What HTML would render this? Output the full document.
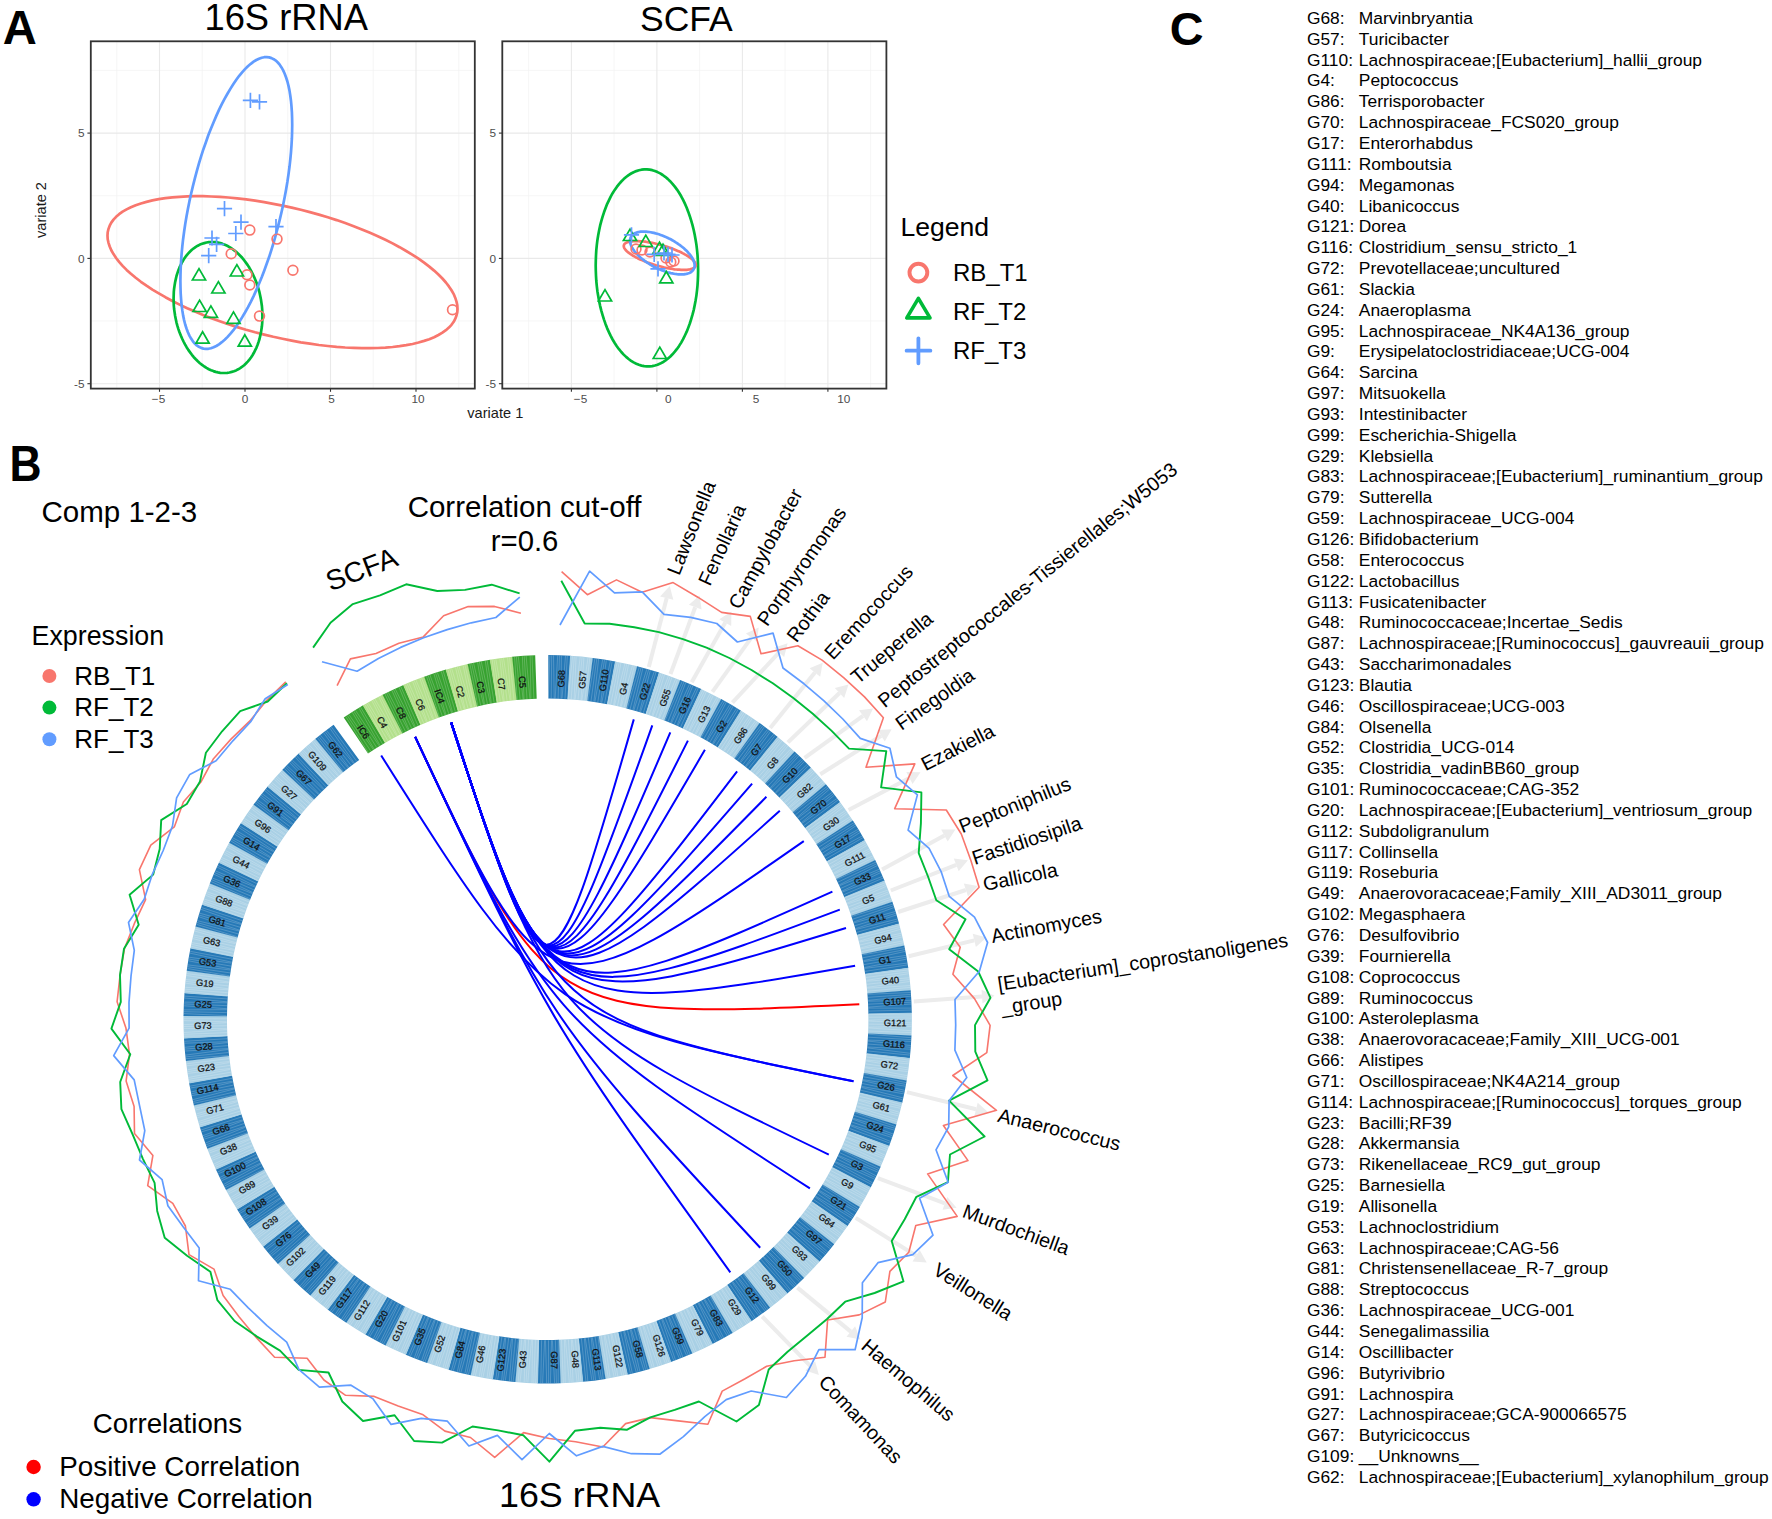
<!DOCTYPE html>
<html><head><meta charset="utf-8"><title>Figure</title>
<style>html,body{margin:0;padding:0;background:#fff}svg{display:block}text{font-family:"Liberation Sans", Arial, Helvetica, sans-serif}</style>
</head><body>
<svg width="1772" height="1519" viewBox="0 0 1772 1519">
<rect width="1772" height="1519" fill="#fff"/>
<g id="panelA">
<rect x="90.8" y="41.3" width="384.0" height="347.3" fill="#fff"/>
<line x1="116.8" y1="41.3" x2="116.8" y2="388.6" stroke="#f2f2f2" stroke-width="0.7"/>
<line x1="202.2" y1="41.3" x2="202.2" y2="388.6" stroke="#f2f2f2" stroke-width="0.7"/>
<line x1="287.8" y1="41.3" x2="287.8" y2="388.6" stroke="#f2f2f2" stroke-width="0.7"/>
<line x1="373.2" y1="41.3" x2="373.2" y2="388.6" stroke="#f2f2f2" stroke-width="0.7"/>
<line x1="458.8" y1="41.3" x2="458.8" y2="388.6" stroke="#f2f2f2" stroke-width="0.7"/>
<line x1="90.8" y1="321.0" x2="474.8" y2="321.0" stroke="#f2f2f2" stroke-width="0.7"/>
<line x1="90.8" y1="195.7" x2="474.8" y2="195.7" stroke="#f2f2f2" stroke-width="0.7"/>
<line x1="90.8" y1="70.4" x2="474.8" y2="70.4" stroke="#f2f2f2" stroke-width="0.7"/>
<line x1="159.5" y1="41.3" x2="159.5" y2="388.6" stroke="#e9e9e9" stroke-width="1.1"/>
<line x1="159.5" y1="388.6" x2="159.5" y2="391.8" stroke="#333" stroke-width="1.1"/>
<text x="158.5" y="402.8" font-size="11.8" fill="#4d4d4d" text-anchor="middle">−5</text>
<line x1="245.0" y1="41.3" x2="245.0" y2="388.6" stroke="#e9e9e9" stroke-width="1.1"/>
<line x1="245.0" y1="388.6" x2="245.0" y2="391.8" stroke="#333" stroke-width="1.1"/>
<text x="245.0" y="402.8" font-size="11.8" fill="#4d4d4d" text-anchor="middle">0</text>
<line x1="330.5" y1="41.3" x2="330.5" y2="388.6" stroke="#e9e9e9" stroke-width="1.1"/>
<line x1="330.5" y1="388.6" x2="330.5" y2="391.8" stroke="#333" stroke-width="1.1"/>
<text x="331.5" y="402.8" font-size="11.8" fill="#4d4d4d" text-anchor="middle">5</text>
<line x1="416.0" y1="41.3" x2="416.0" y2="388.6" stroke="#e9e9e9" stroke-width="1.1"/>
<line x1="416.0" y1="388.6" x2="416.0" y2="391.8" stroke="#333" stroke-width="1.1"/>
<text x="418.0" y="402.8" font-size="11.8" fill="#4d4d4d" text-anchor="middle">10</text>
<line x1="90.8" y1="383.7" x2="474.8" y2="383.7" stroke="#e9e9e9" stroke-width="1.1"/>
<line x1="87.4" y1="383.7" x2="90.8" y2="383.7" stroke="#333" stroke-width="1.1"/>
<text x="84.5" y="387.9" font-size="11.8" fill="#4d4d4d" text-anchor="end">-5</text>
<line x1="90.8" y1="258.4" x2="474.8" y2="258.4" stroke="#e9e9e9" stroke-width="1.1"/>
<line x1="87.4" y1="258.4" x2="90.8" y2="258.4" stroke="#333" stroke-width="1.1"/>
<text x="84.5" y="262.6" font-size="11.8" fill="#4d4d4d" text-anchor="end">0</text>
<line x1="90.8" y1="133.1" x2="474.8" y2="133.1" stroke="#e9e9e9" stroke-width="1.1"/>
<line x1="87.4" y1="133.1" x2="90.8" y2="133.1" stroke="#333" stroke-width="1.1"/>
<text x="84.5" y="137.3" font-size="11.8" fill="#4d4d4d" text-anchor="end">5</text>
<rect x="502.3" y="41.3" width="384.1" height="347.3" fill="#fff"/>
<line x1="528.6" y1="41.3" x2="528.6" y2="388.6" stroke="#f2f2f2" stroke-width="0.7"/>
<line x1="614.1" y1="41.3" x2="614.1" y2="388.6" stroke="#f2f2f2" stroke-width="0.7"/>
<line x1="699.6" y1="41.3" x2="699.6" y2="388.6" stroke="#f2f2f2" stroke-width="0.7"/>
<line x1="785.1" y1="41.3" x2="785.1" y2="388.6" stroke="#f2f2f2" stroke-width="0.7"/>
<line x1="870.6" y1="41.3" x2="870.6" y2="388.6" stroke="#f2f2f2" stroke-width="0.7"/>
<line x1="502.3" y1="321.0" x2="886.4" y2="321.0" stroke="#f2f2f2" stroke-width="0.7"/>
<line x1="502.3" y1="195.7" x2="886.4" y2="195.7" stroke="#f2f2f2" stroke-width="0.7"/>
<line x1="502.3" y1="70.4" x2="886.4" y2="70.4" stroke="#f2f2f2" stroke-width="0.7"/>
<line x1="571.4" y1="41.3" x2="571.4" y2="388.6" stroke="#e9e9e9" stroke-width="1.1"/>
<line x1="571.4" y1="388.6" x2="571.4" y2="391.8" stroke="#333" stroke-width="1.1"/>
<text x="580.5" y="402.8" font-size="11.8" fill="#4d4d4d" text-anchor="middle">−5</text>
<line x1="656.9" y1="41.3" x2="656.9" y2="388.6" stroke="#e9e9e9" stroke-width="1.1"/>
<line x1="656.9" y1="388.6" x2="656.9" y2="391.8" stroke="#333" stroke-width="1.1"/>
<text x="668.2" y="402.8" font-size="11.8" fill="#4d4d4d" text-anchor="middle">0</text>
<line x1="742.4" y1="41.3" x2="742.4" y2="388.6" stroke="#e9e9e9" stroke-width="1.1"/>
<line x1="742.4" y1="388.6" x2="742.4" y2="391.8" stroke="#333" stroke-width="1.1"/>
<text x="756.0" y="402.8" font-size="11.8" fill="#4d4d4d" text-anchor="middle">5</text>
<line x1="827.9" y1="41.3" x2="827.9" y2="388.6" stroke="#e9e9e9" stroke-width="1.1"/>
<line x1="827.9" y1="388.6" x2="827.9" y2="391.8" stroke="#333" stroke-width="1.1"/>
<text x="843.7" y="402.8" font-size="11.8" fill="#4d4d4d" text-anchor="middle">10</text>
<line x1="502.3" y1="383.7" x2="886.4" y2="383.7" stroke="#e9e9e9" stroke-width="1.1"/>
<line x1="498.9" y1="383.7" x2="502.3" y2="383.7" stroke="#333" stroke-width="1.1"/>
<text x="496.0" y="387.9" font-size="11.8" fill="#4d4d4d" text-anchor="end">-5</text>
<line x1="502.3" y1="258.4" x2="886.4" y2="258.4" stroke="#e9e9e9" stroke-width="1.1"/>
<line x1="498.9" y1="258.4" x2="502.3" y2="258.4" stroke="#333" stroke-width="1.1"/>
<text x="496.0" y="262.6" font-size="11.8" fill="#4d4d4d" text-anchor="end">0</text>
<line x1="502.3" y1="133.1" x2="886.4" y2="133.1" stroke="#e9e9e9" stroke-width="1.1"/>
<line x1="498.9" y1="133.1" x2="502.3" y2="133.1" stroke="#333" stroke-width="1.1"/>
<text x="496.0" y="137.3" font-size="11.8" fill="#4d4d4d" text-anchor="end">5</text>
<polygon points="457.5,308.8 457.3,312.2 456.5,315.5 455.3,318.7 453.7,321.8 451.5,324.8 448.9,327.6 445.9,330.2 442.4,332.7 438.4,335.0 434.1,337.2 429.3,339.2 424.1,340.9 418.5,342.5 412.6,344.0 406.2,345.2 399.6,346.2 392.6,347.0 385.4,347.6 377.8,348.0 370.0,348.2 361.9,348.2 353.7,347.9 345.2,347.5 336.6,346.9 327.8,346.0 318.9,345.0 309.9,343.7 300.8,342.3 291.7,340.6 282.5,338.8 273.3,336.8 264.2,334.6 255.1,332.3 246.1,329.8 237.2,327.1 228.4,324.3 219.8,321.3 211.3,318.2 203.1,315.0 195.0,311.6 187.2,308.2 179.6,304.6 172.4,301.0 165.4,297.2 158.8,293.4 152.4,289.6 146.5,285.7 140.9,281.8 135.7,277.8 130.9,273.8 126.6,269.9 122.6,265.9 119.1,261.9 116.1,258.0 113.5,254.1 111.3,250.3 109.7,246.5 108.5,242.8 107.7,239.2 107.5,235.6 107.7,232.2 108.5,228.9 109.7,225.7 111.3,222.6 113.5,219.6 116.1,216.8 119.1,214.2 122.6,211.7 126.6,209.4 130.9,207.2 135.7,205.2 140.9,203.5 146.5,201.9 152.4,200.4 158.8,199.2 165.4,198.2 172.4,197.4 179.6,196.8 187.2,196.4 195.0,196.2 203.1,196.2 211.3,196.5 219.8,196.9 228.4,197.5 237.2,198.4 246.1,199.4 255.1,200.7 264.2,202.1 273.3,203.8 282.5,205.6 291.7,207.6 300.8,209.8 309.9,212.1 318.9,214.6 327.8,217.3 336.6,220.1 345.2,223.1 353.7,226.2 361.9,229.4 370.0,232.8 377.8,236.2 385.4,239.8 392.6,243.4 399.6,247.2 406.2,251.0 412.6,254.8 418.5,258.7 424.1,262.6 429.3,266.6 434.1,270.6 438.4,274.5 442.4,278.5 445.9,282.5 448.9,286.4 451.5,290.3 453.7,294.1 455.3,297.9 456.5,301.6 457.3,305.2" fill="none" stroke="#F8766D" stroke-width="2.7" stroke-linejoin="round"/>
<polygon points="262.4,316.3 262.3,319.7 262.2,323.0 261.9,326.3 261.4,329.6 260.9,332.8 260.2,335.9 259.5,339.0 258.6,341.9 257.6,344.8 256.5,347.6 255.2,350.2 253.9,352.8 252.5,355.2 251.0,357.5 249.4,359.6 247.7,361.6 245.9,363.5 244.1,365.2 242.2,366.7 240.2,368.1 238.2,369.3 236.1,370.4 233.9,371.2 231.7,371.9 229.5,372.5 227.2,372.8 224.9,373.0 222.6,373.0 220.3,372.8 218.0,372.4 215.7,371.9 213.4,371.1 211.1,370.2 208.8,369.2 206.5,367.9 204.3,366.5 202.1,364.9 199.9,363.2 197.8,361.3 195.8,359.3 193.8,357.2 191.9,354.8 190.1,352.4 188.3,349.9 186.6,347.2 185.0,344.4 183.5,341.5 182.1,338.5 180.8,335.5 179.5,332.3 178.4,329.1 177.4,325.9 176.5,322.6 175.8,319.2 175.1,315.8 174.6,312.4 174.1,309.0 173.8,305.5 173.7,302.1 173.6,298.7 173.7,295.3 173.8,292.0 174.1,288.7 174.6,285.4 175.1,282.2 175.8,279.1 176.5,276.0 177.4,273.1 178.4,270.2 179.5,267.4 180.8,264.8 182.1,262.2 183.5,259.8 185.0,257.5 186.6,255.4 188.3,253.4 190.1,251.5 191.9,249.8 193.8,248.3 195.8,246.9 197.8,245.7 199.9,244.6 202.1,243.8 204.3,243.1 206.5,242.5 208.8,242.2 211.1,242.0 213.4,242.0 215.7,242.2 218.0,242.6 220.3,243.1 222.6,243.9 224.9,244.8 227.2,245.8 229.5,247.1 231.7,248.5 233.9,250.1 236.1,251.8 238.2,253.7 240.2,255.7 242.2,257.8 244.1,260.2 245.9,262.6 247.7,265.1 249.4,267.8 251.0,270.6 252.5,273.5 253.9,276.5 255.2,279.5 256.5,282.7 257.6,285.9 258.6,289.1 259.5,292.4 260.2,295.8 260.9,299.2 261.4,302.6 261.9,306.0 262.2,309.5 262.3,312.9" fill="none" stroke="#00BA38" stroke-width="2.7" stroke-linejoin="round"/>
<polygon points="292.2,124.9 292.1,131.5 291.9,138.2 291.5,145.1 291.0,152.2 290.3,159.5 289.5,166.8 288.5,174.2 287.4,181.8 286.1,189.4 284.7,197.0 283.2,204.6 281.5,212.2 279.7,219.9 277.8,227.4 275.8,234.9 273.7,242.3 271.5,249.6 269.2,256.8 266.7,263.8 264.2,270.7 261.7,277.3 259.0,283.8 256.3,290.1 253.6,296.1 250.8,301.8 247.9,307.3 245.0,312.5 242.1,317.4 239.2,322.0 236.3,326.2 233.4,330.2 230.5,333.7 227.6,336.9 224.7,339.8 221.8,342.2 219.0,344.3 216.3,346.0 213.6,347.3 210.9,348.3 208.4,348.8 205.9,348.9 203.4,348.6 201.1,347.9 198.9,346.8 196.8,345.4 194.8,343.5 192.9,341.3 191.1,338.6 189.4,335.6 187.9,332.3 186.5,328.5 185.2,324.5 184.1,320.1 183.1,315.4 182.3,310.3 181.6,305.0 181.1,299.4 180.7,293.6 180.5,287.4 180.4,281.1 180.5,274.5 180.7,267.8 181.1,260.9 181.6,253.8 182.3,246.5 183.1,239.2 184.1,231.8 185.2,224.2 186.5,216.6 187.9,209.0 189.4,201.4 191.1,193.8 192.9,186.1 194.8,178.6 196.8,171.1 198.9,163.7 201.1,156.4 203.4,149.2 205.9,142.2 208.3,135.3 210.9,128.7 213.6,122.2 216.3,115.9 219.0,109.9 221.8,104.2 224.7,98.7 227.6,93.5 230.5,88.6 233.4,84.0 236.3,79.8 239.2,75.8 242.1,72.3 245.0,69.1 247.9,66.2 250.8,63.8 253.6,61.7 256.3,60.0 259.0,58.7 261.7,57.7 264.2,57.2 266.7,57.1 269.2,57.4 271.5,58.1 273.7,59.2 275.8,60.6 277.8,62.5 279.7,64.7 281.5,67.4 283.2,70.4 284.7,73.7 286.1,77.5 287.4,81.5 288.5,85.9 289.5,90.6 290.3,95.7 291.0,101.0 291.5,106.6 291.9,112.4 292.1,118.6" fill="none" stroke="#619CFF" stroke-width="2.7" stroke-linejoin="round"/>
<circle cx="249.8" cy="230.1" r="4.9" fill="none" stroke="#F8766D" stroke-width="1.7"/>
<circle cx="277" cy="239.1" r="4.9" fill="none" stroke="#F8766D" stroke-width="1.7"/>
<circle cx="231.2" cy="253.8" r="4.9" fill="none" stroke="#F8766D" stroke-width="1.7"/>
<circle cx="292.9" cy="270.3" r="4.9" fill="none" stroke="#F8766D" stroke-width="1.7"/>
<circle cx="247" cy="274.8" r="4.9" fill="none" stroke="#F8766D" stroke-width="1.7"/>
<circle cx="249.8" cy="285" r="4.9" fill="none" stroke="#F8766D" stroke-width="1.7"/>
<circle cx="259.5" cy="316.1" r="4.9" fill="none" stroke="#F8766D" stroke-width="1.7"/>
<circle cx="452.5" cy="309.8" r="4.9" fill="none" stroke="#F8766D" stroke-width="1.7"/>
<polygon points="199.0,268.6 192.4,280.0 205.6,280.0" fill="none" stroke="#00BA38" stroke-width="1.7"/>
<polygon points="236.9,264.6 230.3,276.0 243.5,276.0" fill="none" stroke="#00BA38" stroke-width="1.7"/>
<polygon points="218.4,281.6 211.8,293.0 225.0,293.0" fill="none" stroke="#00BA38" stroke-width="1.7"/>
<polygon points="199.6,300.1 193.0,311.5 206.2,311.5" fill="none" stroke="#00BA38" stroke-width="1.7"/>
<polygon points="210.9,305.9 204.3,317.3 217.5,317.3" fill="none" stroke="#00BA38" stroke-width="1.7"/>
<polygon points="233.5,311.9 226.9,323.3 240.1,323.3" fill="none" stroke="#00BA38" stroke-width="1.7"/>
<polygon points="202.6,331.8 196.0,343.2 209.2,343.2" fill="none" stroke="#00BA38" stroke-width="1.7"/>
<polygon points="244.8,334.8 238.2,346.2 251.4,346.2" fill="none" stroke="#00BA38" stroke-width="1.7"/>
<path d="M242.8 100.4H258.0M250.4 92.8V108.0" stroke="#619CFF" stroke-width="1.7" fill="none"/>
<path d="M251.9 101.8H267.1M259.5 94.2V109.4" stroke="#619CFF" stroke-width="1.7" fill="none"/>
<path d="M216.9 208.7H232.1M224.5 201.1V216.3" stroke="#619CFF" stroke-width="1.7" fill="none"/>
<path d="M233.4 222.2H248.6M241 214.6V229.8" stroke="#619CFF" stroke-width="1.7" fill="none"/>
<path d="M268.4 226.7H283.6M276 219.1V234.3" stroke="#619CFF" stroke-width="1.7" fill="none"/>
<path d="M228.2 233.5H243.4M235.8 225.9V241.1" stroke="#619CFF" stroke-width="1.7" fill="none"/>
<path d="M204.4 238H219.6M212 230.4V245.6" stroke="#619CFF" stroke-width="1.7" fill="none"/>
<path d="M209.0 244.3H224.2M216.6 236.7V251.9" stroke="#619CFF" stroke-width="1.7" fill="none"/>
<path d="M201.1 255.6H216.3M208.7 248.0V263.2" stroke="#619CFF" stroke-width="1.7" fill="none"/>
<polygon points="698.1,270.2 698.0,275.4 697.8,280.5 697.5,285.6 697.0,290.6 696.4,295.6 695.6,300.5 694.7,305.3 693.7,310.1 692.5,314.7 691.2,319.1 689.8,323.5 688.3,327.6 686.7,331.7 684.9,335.5 683.1,339.2 681.2,342.6 679.1,345.9 677.0,348.9 674.8,351.7 672.5,354.3 670.1,356.7 667.7,358.8 665.2,360.7 662.7,362.3 660.2,363.6 657.5,364.7 654.9,365.5 652.3,366.1 649.6,366.4 646.9,366.4 644.2,366.1 641.5,365.6 638.9,364.8 636.3,363.7 633.6,362.4 631.1,360.8 628.6,359.0 626.1,356.9 623.7,354.6 621.3,352.0 619.0,349.2 616.8,346.2 614.7,343.0 612.6,339.5 610.7,335.9 608.9,332.1 607.1,328.1 605.5,323.9 604.0,319.6 602.6,315.1 601.3,310.6 600.1,305.8 599.1,301.0 598.2,296.1 597.4,291.2 596.8,286.1 596.3,281.0 596.0,275.9 595.8,270.8 595.7,265.6 595.8,260.4 596.0,255.3 596.3,250.2 596.8,245.2 597.4,240.2 598.2,235.3 599.1,230.5 600.1,225.7 601.3,221.1 602.6,216.7 604.0,212.3 605.5,208.2 607.1,204.1 608.9,200.3 610.7,196.6 612.6,193.2 614.7,189.9 616.8,186.9 619.0,184.1 621.3,181.5 623.7,179.1 626.1,177.0 628.6,175.1 631.1,173.5 633.6,172.2 636.3,171.1 638.9,170.3 641.5,169.7 644.2,169.4 646.9,169.4 649.6,169.7 652.3,170.2 654.9,171.0 657.5,172.1 660.2,173.4 662.7,175.0 665.2,176.8 667.7,178.9 670.1,181.2 672.5,183.8 674.8,186.6 677.0,189.6 679.1,192.8 681.2,196.3 683.1,199.9 684.9,203.7 686.7,207.7 688.3,211.9 689.8,216.2 691.2,220.7 692.5,225.2 693.7,230.0 694.7,234.8 695.6,239.7 696.4,244.6 697.0,249.7 697.5,254.8 697.8,259.9 698.0,265.0" fill="none" stroke="#00BA38" stroke-width="2.7" stroke-linejoin="round"/>
<polygon points="695.8,265.0 695.8,265.6 695.6,266.1 695.4,266.6 695.0,267.0 694.6,267.5 694.0,267.9 693.4,268.2 692.7,268.6 691.9,268.9 691.0,269.1 690.0,269.4 688.9,269.5 687.8,269.7 686.6,269.8 685.3,269.9 683.9,269.9 682.5,269.9 681.0,269.8 679.4,269.7 677.8,269.6 676.1,269.5 674.4,269.3 672.7,269.0 670.9,268.7 669.1,268.4 667.3,268.1 665.4,267.7 663.6,267.3 661.7,266.8 659.8,266.3 657.9,265.8 656.0,265.3 654.2,264.7 652.3,264.1 650.5,263.5 648.7,262.9 646.9,262.2 645.2,261.5 643.5,260.8 641.8,260.1 640.2,259.4 638.6,258.7 637.1,257.9 635.7,257.2 634.3,256.4 633.0,255.7 631.8,254.9 630.7,254.2 629.6,253.4 628.6,252.7 627.7,251.9 626.9,251.2 626.2,250.5 625.6,249.8 625.0,249.1 624.6,248.5 624.2,247.8 624.0,247.2 623.8,246.6 623.8,246.0 623.8,245.4 624.0,244.9 624.2,244.4 624.6,244.0 625.0,243.5 625.6,243.1 626.2,242.8 626.9,242.4 627.7,242.1 628.6,241.9 629.6,241.6 630.7,241.5 631.8,241.3 633.0,241.2 634.3,241.1 635.7,241.1 637.1,241.1 638.6,241.2 640.2,241.3 641.8,241.4 643.5,241.5 645.2,241.7 646.9,242.0 648.7,242.3 650.5,242.6 652.3,242.9 654.2,243.3 656.0,243.7 657.9,244.2 659.8,244.7 661.7,245.2 663.6,245.7 665.4,246.3 667.3,246.9 669.1,247.5 670.9,248.1 672.7,248.8 674.4,249.5 676.1,250.2 677.8,250.9 679.4,251.6 681.0,252.3 682.5,253.1 683.9,253.8 685.3,254.6 686.6,255.3 687.8,256.1 688.9,256.8 690.0,257.6 691.0,258.3 691.9,259.1 692.7,259.8 693.4,260.5 694.0,261.2 694.6,261.9 695.0,262.5 695.4,263.2 695.6,263.8 695.8,264.4" fill="none" stroke="#F8766D" stroke-width="2.7" stroke-linejoin="round"/>
<polygon points="694.6,265.4 694.6,266.3 694.4,267.1 694.2,268.0 693.9,268.7 693.5,269.5 693.0,270.2 692.5,270.8 691.8,271.4 691.1,272.0 690.3,272.5 689.4,272.9 688.4,273.3 687.4,273.6 686.3,273.9 685.1,274.1 683.9,274.3 682.6,274.4 681.3,274.4 679.9,274.4 678.4,274.3 677.0,274.2 675.4,274.0 673.9,273.7 672.3,273.4 670.7,273.1 669.0,272.6 667.4,272.2 665.7,271.7 664.0,271.1 662.3,270.5 660.6,269.8 658.9,269.1 657.2,268.3 655.6,267.5 653.9,266.7 652.3,265.8 650.7,264.9 649.2,263.9 647.6,262.9 646.1,261.9 644.7,260.9 643.3,259.8 642.0,258.8 640.7,257.7 639.5,256.6 638.3,255.5 637.2,254.4 636.2,253.2 635.2,252.1 634.3,251.0 633.5,249.9 632.8,248.8 632.1,247.7 631.6,246.6 631.1,245.6 630.7,244.5 630.4,243.5 630.2,242.5 630.0,241.5 630.0,240.6 630.0,239.7 630.2,238.9 630.4,238.0 630.7,237.3 631.1,236.5 631.6,235.8 632.1,235.2 632.8,234.6 633.5,234.0 634.3,233.5 635.2,233.1 636.2,232.7 637.2,232.4 638.3,232.1 639.5,231.9 640.7,231.7 642.0,231.6 643.3,231.6 644.7,231.6 646.1,231.7 647.6,231.8 649.2,232.0 650.7,232.3 652.3,232.6 653.9,232.9 655.6,233.4 657.2,233.8 658.9,234.3 660.6,234.9 662.3,235.5 664.0,236.2 665.7,236.9 667.4,237.7 669.0,238.5 670.7,239.3 672.3,240.2 673.9,241.1 675.4,242.1 677.0,243.1 678.4,244.1 679.9,245.1 681.3,246.2 682.6,247.2 683.9,248.3 685.1,249.4 686.3,250.5 687.4,251.6 688.4,252.8 689.4,253.9 690.3,255.0 691.1,256.1 691.8,257.2 692.5,258.3 693.0,259.4 693.5,260.4 693.9,261.5 694.2,262.5 694.4,263.5 694.6,264.5" fill="none" stroke="#619CFF" stroke-width="2.7" stroke-linejoin="round"/>
<circle cx="642" cy="250" r="4.9" fill="none" stroke="#F8766D" stroke-width="1.7"/>
<circle cx="636" cy="249" r="4.9" fill="none" stroke="#F8766D" stroke-width="1.7"/>
<circle cx="650" cy="252" r="4.9" fill="none" stroke="#F8766D" stroke-width="1.7"/>
<circle cx="670.8" cy="262" r="4.9" fill="none" stroke="#F8766D" stroke-width="1.7"/>
<circle cx="674" cy="261" r="4.9" fill="none" stroke="#F8766D" stroke-width="1.7"/>
<circle cx="666" cy="258" r="4.9" fill="none" stroke="#F8766D" stroke-width="1.7"/>
<polygon points="630.0,229.1 623.4,240.5 636.6,240.5" fill="none" stroke="#00BA38" stroke-width="1.7"/>
<polygon points="645.8,235.1 639.2,246.5 652.4,246.5" fill="none" stroke="#00BA38" stroke-width="1.7"/>
<polygon points="605.0,289.6 598.4,301.0 611.6,301.0" fill="none" stroke="#00BA38" stroke-width="1.7"/>
<polygon points="666.3,271.5 659.7,282.9 672.9,282.9" fill="none" stroke="#00BA38" stroke-width="1.7"/>
<polygon points="659.8,347.1 653.2,358.5 666.4,358.5" fill="none" stroke="#00BA38" stroke-width="1.7"/>
<polygon points="659.5,242.1 652.9,253.5 666.1,253.5" fill="none" stroke="#00BA38" stroke-width="1.7"/>
<polygon points="663.0,244.1 656.4,255.5 669.6,255.5" fill="none" stroke="#00BA38" stroke-width="1.7"/>
<path d="M623.9 234.8H639.1M631.5 227.2V242.4" stroke="#619CFF" stroke-width="1.7" fill="none"/>
<path d="M646.6 254.4H661.8M654.2 246.8V262.0" stroke="#619CFF" stroke-width="1.7" fill="none"/>
<path d="M650.4 268.8H665.6M658 261.2V276.4" stroke="#619CFF" stroke-width="1.7" fill="none"/>
<path d="M660.4 254.4H675.6M668 246.8V262.0" stroke="#619CFF" stroke-width="1.7" fill="none"/>
<path d="M664.4 255H679.6M672 247.4V262.6" stroke="#619CFF" stroke-width="1.7" fill="none"/>
<path d="M656.4 253H671.6M664 245.4V260.6" stroke="#619CFF" stroke-width="1.7" fill="none"/>
<rect x="90.8" y="41.3" width="384.0" height="347.3" fill="none" stroke="#333" stroke-width="1.8"/>
<rect x="502.3" y="41.3" width="384.1" height="347.3" fill="none" stroke="#333" stroke-width="1.8"/>
<text x="204.5" y="30" font-size="36.3">16S rRNA</text>
<text x="640" y="30.5" font-size="35.5">SCFA</text>
<text x="495.3" y="418.2" font-size="14.6" fill="#1a1a1a" text-anchor="middle">variate 1</text>
<text transform="translate(46.4 210) rotate(-90)" font-size="14.6" fill="#1a1a1a" text-anchor="middle">variate 2</text>
<text x="2.7" y="44" font-size="47.2" font-weight="bold">A</text>
<text x="900.4" y="236" font-size="26.6">Legend</text>
<text x="953" y="280.8" font-size="24">RB_T1</text>
<text x="953" y="319.7" font-size="24">RF_T2</text>
<text x="953" y="358.8" font-size="24">RF_T3</text>
<circle cx="918.4" cy="272.6" r="8.9" fill="none" stroke="#F8766D" stroke-width="3.9"/>
<polygon points="918.4,298.3 906.8,317.9 930,317.9" fill="none" stroke="#00BA38" stroke-width="3.6" stroke-linejoin="round"/>
<path d="M906.6 350.7H930.4M918.4 338.3V363.3" stroke="#619CFF" stroke-width="3.8" stroke-linecap="round" fill="none"/>
</g>
<g id="panelB">
<text transform="translate(9.5 481.4) scale(0.88 1)" font-size="50.5" font-weight="bold">B</text>
<text x="41.5" y="521.7" font-size="29.5">Comp 1-2-3</text>
<text x="524.6" y="516.9" font-size="29.5" text-anchor="middle">Correlation cut-off</text>
<text x="524.6" y="550.5" font-size="29.3" text-anchor="middle">r=0.6</text>
<text x="31.6" y="644.5" font-size="26.8">Expression</text>
<circle cx="49.4" cy="676.0" r="7" fill="#F8766D"/>
<text x="74.3" y="684.8" font-size="26">RB_T1</text>
<circle cx="49.4" cy="707.6" r="7" fill="#00BA38"/>
<text x="74.3" y="716.4" font-size="26">RF_T2</text>
<circle cx="49.4" cy="739.2" r="7" fill="#619CFF"/>
<text x="74.3" y="748.0" font-size="26">RF_T3</text>
<text x="92.8" y="1433.3" font-size="27.7">Correlations</text>
<circle cx="33.6" cy="1467" r="7.2" fill="#FF0000"/><text x="59.3" y="1476" font-size="27.8">Positive Correlation</text>
<circle cx="33.6" cy="1499.3" r="7.2" fill="#0000FF"/><text x="59.3" y="1508.4" font-size="27.8">Negative Correlation</text>
<text x="499" y="1507.2" font-size="35.8">16S rRNA</text>
<text transform="translate(330.5 591.5) rotate(-21) " font-size="28.3">SCFA</text>
<g stroke="#ececec" stroke-width="4" fill="#ececec" stroke-linecap="butt">
<path d="M648.8 667.0L666.7 598.1" fill="none"/>
<polygon stroke="none" points="669.8,586.0 673.3,599.8 660.1,596.4"/>
<path d="M670.5 674.0L695.2 607.2" fill="none"/>
<polygon stroke="none" points="699.6,595.4 701.6,609.5 688.9,604.8"/>
<path d="M691.7 682.3L725.3 622.5" fill="none"/>
<polygon stroke="none" points="731.4,611.6 731.2,625.9 719.3,619.2"/>
<path d="M712.4 691.9L751.4 637.6" fill="none"/>
<polygon stroke="none" points="758.7,627.5 756.9,641.6 745.9,633.6"/>
<path d="M732.4 702.7L779.1 652.4" fill="none"/>
<polygon stroke="none" points="787.6,643.2 784.1,657.0 774.2,647.7"/>
<path d="M770.2 728.1L814.9 672.6" fill="none"/>
<polygon stroke="none" points="822.7,662.8 820.2,676.8 809.6,668.3"/>
<path d="M787.9 742.4L839.5 693.0" fill="none"/>
<polygon stroke="none" points="848.5,684.4 844.2,697.9 834.8,688.1"/>
<path d="M804.6 757.9L863.0 715.8" fill="none"/>
<polygon stroke="none" points="873.1,708.5 867.0,721.3 859.0,710.3"/>
<path d="M820.3 774.3L881.2 735.8" fill="none"/>
<polygon stroke="none" points="891.7,729.2 884.8,741.6 877.5,730.1"/>
<path d="M848.6 810.0L909.4 778.1" fill="none"/>
<polygon stroke="none" points="920.5,772.3 912.6,784.1 906.3,772.1"/>
<path d="M882.1 869.4L944.4 835.4" fill="none"/>
<polygon stroke="none" points="955.4,829.4 947.7,841.4 941.1,829.4"/>
<path d="M890.8 890.5L956.3 864.8" fill="none"/>
<polygon stroke="none" points="967.9,860.3 958.7,871.2 953.8,858.5"/>
<path d="M898.1 912.0L965.9 890.0" fill="none"/>
<polygon stroke="none" points="977.8,886.1 968.0,896.5 963.8,883.5"/>
<path d="M908.7 956.3L974.3 940.4" fill="none"/>
<polygon stroke="none" points="986.5,937.5 975.9,947.0 972.7,933.8"/>
<path d="M913.8 1001.5L982.0 996.6" fill="none"/>
<polygon stroke="none" points="994.5,995.7 982.5,1003.4 981.5,989.8"/>
<path d="M906.9 1092.1L976.1 1109.3" fill="none"/>
<polygon stroke="none" points="988.2,1112.3 974.4,1115.9 977.7,1102.7"/>
<path d="M877.9 1178.2L944.9 1203.3" fill="none"/>
<polygon stroke="none" points="956.6,1207.7 942.5,1209.7 947.3,1197.0"/>
<path d="M855.7 1217.9L916.1 1255.7" fill="none"/>
<polygon stroke="none" points="926.7,1262.4 912.5,1261.5 919.7,1250.0"/>
<path d="M797.4 1287.6L850.8 1331.6" fill="none"/>
<polygon stroke="none" points="860.4,1339.5 846.5,1336.8 855.1,1326.3"/>
<path d="M762.2 1316.5L810.2 1365.9" fill="none"/>
<polygon stroke="none" points="818.9,1374.9 805.3,1370.6 815.1,1361.2"/>
</g>
<path d="M548.3 655.1A364.2 364.2 0 0 1 570.5 655.8L567.8 699.2A320.7 320.7 0 0 0 548.3 698.6Z" fill="#2679B7"/>
<path d="M570.1 655.8A364.2 364.2 0 0 1 593.0 657.9L587.6 701.1A320.7 320.7 0 0 0 567.4 699.2Z" fill="#A9D0E5"/>
<path d="M592.7 657.9A364.2 364.2 0 0 1 615.4 661.4L607.3 704.2A320.7 320.7 0 0 0 587.3 701.1Z" fill="#2679B7"/>
<path d="M615.0 661.4A364.2 364.2 0 0 1 637.5 666.3L626.7 708.5A320.7 320.7 0 0 0 607.0 704.1Z" fill="#A9D0E5"/>
<path d="M637.1 666.2A364.2 364.2 0 0 1 659.2 672.6L645.9 714.0A320.7 320.7 0 0 0 626.4 708.4Z" fill="#2679B7"/>
<path d="M658.9 672.5A364.2 364.2 0 0 1 680.5 680.2L664.7 720.7A320.7 320.7 0 0 0 645.6 713.9Z" fill="#A9D0E5"/>
<path d="M680.2 680.0A364.2 364.2 0 0 1 701.3 689.1L683.0 728.5A320.7 320.7 0 0 0 664.4 720.6Z" fill="#2679B7"/>
<path d="M701.0 688.9A364.2 364.2 0 0 1 721.5 699.3L700.8 737.5A320.7 320.7 0 0 0 682.7 728.4Z" fill="#A9D0E5"/>
<path d="M721.2 699.1A364.2 364.2 0 0 1 741.1 710.7L718.0 747.5A320.7 320.7 0 0 0 700.5 737.3Z" fill="#2679B7"/>
<path d="M740.8 710.5A364.2 364.2 0 0 1 759.9 723.3L734.5 758.6A320.7 320.7 0 0 0 717.7 747.4Z" fill="#A9D0E5"/>
<path d="M759.6 723.1A364.2 364.2 0 0 1 777.8 737.0L750.3 770.7A320.7 320.7 0 0 0 734.3 758.4Z" fill="#2679B7"/>
<path d="M777.5 736.8A364.2 364.2 0 0 1 794.9 751.9L765.4 783.8A320.7 320.7 0 0 0 750.1 770.5Z" fill="#A9D0E5"/>
<path d="M794.6 751.6A364.2 364.2 0 0 1 811.0 767.7L779.6 797.8A320.7 320.7 0 0 0 765.1 783.6Z" fill="#2679B7"/>
<path d="M810.8 767.5A364.2 364.2 0 0 1 826.2 784.6L792.9 812.6A320.7 320.7 0 0 0 779.4 797.5Z" fill="#A9D0E5"/>
<path d="M825.9 784.3A364.2 364.2 0 0 1 840.2 802.3L805.3 828.2A320.7 320.7 0 0 0 792.7 812.3Z" fill="#2679B7"/>
<path d="M840.0 802.0A364.2 364.2 0 0 1 853.1 820.9L816.6 844.6A320.7 320.7 0 0 0 805.1 828.0Z" fill="#A9D0E5"/>
<path d="M852.9 820.6A364.2 364.2 0 0 1 864.8 840.2L827.0 861.6A320.7 320.7 0 0 0 816.4 844.3Z" fill="#2679B7"/>
<path d="M864.7 839.9A364.2 364.2 0 0 1 875.3 860.3L836.2 879.3A320.7 320.7 0 0 0 826.8 861.3Z" fill="#A9D0E5"/>
<path d="M875.2 859.9A364.2 364.2 0 0 1 884.6 880.9L844.4 897.5A320.7 320.7 0 0 0 836.1 879.0Z" fill="#2679B7"/>
<path d="M884.4 880.6A364.2 364.2 0 0 1 892.5 902.1L851.3 916.1A320.7 320.7 0 0 0 844.2 897.1Z" fill="#A9D0E5"/>
<path d="M892.4 901.8A364.2 364.2 0 0 1 899.1 923.7L857.2 935.2A320.7 320.7 0 0 0 851.2 915.8Z" fill="#2679B7"/>
<path d="M899.0 923.4A364.2 364.2 0 0 1 904.4 945.8L861.8 954.5A320.7 320.7 0 0 0 857.1 934.8Z" fill="#A9D0E5"/>
<path d="M904.3 945.4A364.2 364.2 0 0 1 908.3 968.0L865.2 974.2A320.7 320.7 0 0 0 861.7 954.2Z" fill="#2679B7"/>
<path d="M908.2 967.7A364.2 364.2 0 0 1 910.8 990.5L867.4 994.0A320.7 320.7 0 0 0 865.2 973.8Z" fill="#A9D0E5"/>
<path d="M910.7 990.2A364.2 364.2 0 0 1 911.8 1013.1L868.4 1013.9A320.7 320.7 0 0 0 867.4 993.6Z" fill="#2679B7"/>
<path d="M911.8 1012.8A364.2 364.2 0 0 1 911.5 1035.8L868.1 1033.8A320.7 320.7 0 0 0 868.3 1013.5Z" fill="#A9D0E5"/>
<path d="M911.5 1035.4A364.2 364.2 0 0 1 909.8 1058.3L866.6 1053.7A320.7 320.7 0 0 0 868.1 1033.5Z" fill="#2679B7"/>
<path d="M909.8 1057.9A364.2 364.2 0 0 1 906.7 1080.7L863.8 1073.4A320.7 320.7 0 0 0 866.6 1053.3Z" fill="#A9D0E5"/>
<path d="M906.7 1080.4A364.2 364.2 0 0 1 902.2 1102.9L859.8 1092.9A320.7 320.7 0 0 0 863.9 1073.1Z" fill="#2679B7"/>
<path d="M902.3 1102.5A364.2 364.2 0 0 1 896.3 1124.7L854.7 1112.2A320.7 320.7 0 0 0 859.9 1092.6Z" fill="#A9D0E5"/>
<path d="M896.4 1124.4A364.2 364.2 0 0 1 889.1 1146.2L848.3 1131.0A320.7 320.7 0 0 0 854.8 1111.8Z" fill="#2679B7"/>
<path d="M889.2 1145.8A364.2 364.2 0 0 1 880.5 1167.1L840.8 1149.5A320.7 320.7 0 0 0 848.4 1130.7Z" fill="#A9D0E5"/>
<path d="M880.7 1166.8A364.2 364.2 0 0 1 870.7 1187.5L832.1 1167.4A320.7 320.7 0 0 0 840.9 1149.2Z" fill="#2679B7"/>
<path d="M870.9 1187.2A364.2 364.2 0 0 1 859.7 1207.3L822.4 1184.8A320.7 320.7 0 0 0 832.3 1167.1Z" fill="#A9D0E5"/>
<path d="M859.8 1206.9A364.2 364.2 0 0 1 847.4 1226.3L811.6 1201.5A320.7 320.7 0 0 0 822.6 1184.5Z" fill="#2679B7"/>
<path d="M847.6 1226.0A364.2 364.2 0 0 1 833.9 1244.5L799.8 1217.6A320.7 320.7 0 0 0 811.8 1201.3Z" fill="#A9D0E5"/>
<path d="M834.2 1244.2A364.2 364.2 0 0 1 819.4 1261.8L787.0 1232.8A320.7 320.7 0 0 0 800.0 1217.3Z" fill="#2679B7"/>
<path d="M819.7 1261.5A364.2 364.2 0 0 1 803.8 1278.2L773.2 1247.3A320.7 320.7 0 0 0 787.2 1232.6Z" fill="#A9D0E5"/>
<path d="M804.1 1277.9A364.2 364.2 0 0 1 787.3 1293.6L758.6 1260.9A320.7 320.7 0 0 0 773.5 1247.1Z" fill="#2679B7"/>
<path d="M787.5 1293.4A364.2 364.2 0 0 1 769.8 1308.0L743.2 1273.5A320.7 320.7 0 0 0 758.9 1260.6Z" fill="#A9D0E5"/>
<path d="M770.1 1307.7A364.2 364.2 0 0 1 751.4 1321.2L727.1 1285.1A320.7 320.7 0 0 0 743.5 1273.3Z" fill="#2679B7"/>
<path d="M751.7 1321.0A364.2 364.2 0 0 1 732.3 1333.3L710.2 1295.8A320.7 320.7 0 0 0 727.4 1285.0Z" fill="#A9D0E5"/>
<path d="M732.6 1333.1A364.2 364.2 0 0 1 712.4 1344.1L692.7 1305.3A320.7 320.7 0 0 0 710.5 1295.6Z" fill="#2679B7"/>
<path d="M712.8 1343.9A364.2 364.2 0 0 1 691.9 1353.7L674.7 1313.8A320.7 320.7 0 0 0 693.0 1305.2Z" fill="#A9D0E5"/>
<path d="M692.3 1353.6A364.2 364.2 0 0 1 670.9 1362.0L656.2 1321.1A320.7 320.7 0 0 0 675.0 1313.6Z" fill="#2679B7"/>
<path d="M671.2 1361.9A364.2 364.2 0 0 1 649.4 1369.0L637.2 1327.3A320.7 320.7 0 0 0 656.5 1321.0Z" fill="#A9D0E5"/>
<path d="M649.7 1368.9A364.2 364.2 0 0 1 627.5 1374.7L617.9 1332.2A320.7 320.7 0 0 0 637.5 1327.2Z" fill="#2679B7"/>
<path d="M627.8 1374.6A364.2 364.2 0 0 1 605.2 1378.9L598.4 1336.0A320.7 320.7 0 0 0 618.3 1332.1Z" fill="#A9D0E5"/>
<path d="M605.6 1378.9A364.2 364.2 0 0 1 582.8 1381.8L578.6 1338.5A320.7 320.7 0 0 0 598.7 1335.9Z" fill="#2679B7"/>
<path d="M583.2 1381.8A364.2 364.2 0 0 1 560.2 1383.3L558.7 1339.8A320.7 320.7 0 0 0 578.9 1338.5Z" fill="#A9D0E5"/>
<path d="M560.6 1383.3A364.2 364.2 0 0 1 537.6 1383.4L538.8 1339.9A320.7 320.7 0 0 0 559.1 1339.8Z" fill="#2679B7"/>
<path d="M538.0 1383.4A364.2 364.2 0 0 1 515.0 1382.0L518.9 1338.7A320.7 320.7 0 0 0 539.1 1339.9Z" fill="#A9D0E5"/>
<path d="M515.4 1382.1A364.2 364.2 0 0 1 492.5 1379.3L499.1 1336.3A320.7 320.7 0 0 0 519.2 1338.7Z" fill="#2679B7"/>
<path d="M492.9 1379.4A364.2 364.2 0 0 1 470.3 1375.2L479.5 1332.7A320.7 320.7 0 0 0 499.5 1336.4Z" fill="#A9D0E5"/>
<path d="M470.7 1375.3A364.2 364.2 0 0 1 448.4 1369.7L460.2 1327.8A320.7 320.7 0 0 0 479.9 1332.7Z" fill="#2679B7"/>
<path d="M448.7 1369.8A364.2 364.2 0 0 1 426.8 1362.8L441.2 1321.8A320.7 320.7 0 0 0 460.5 1327.9Z" fill="#A9D0E5"/>
<path d="M427.1 1363.0A364.2 364.2 0 0 1 405.7 1354.7L422.7 1314.6A320.7 320.7 0 0 0 441.5 1321.9Z" fill="#2679B7"/>
<path d="M406.0 1354.8A364.2 364.2 0 0 1 385.1 1345.2L404.6 1306.3A320.7 320.7 0 0 0 423.0 1314.7Z" fill="#A9D0E5"/>
<path d="M385.5 1345.4A364.2 364.2 0 0 1 365.2 1334.5L387.0 1296.8A320.7 320.7 0 0 0 404.9 1306.4Z" fill="#2679B7"/>
<path d="M365.5 1334.7A364.2 364.2 0 0 1 346.0 1322.5L370.1 1286.3A320.7 320.7 0 0 0 387.3 1297.0Z" fill="#A9D0E5"/>
<path d="M346.3 1322.8A364.2 364.2 0 0 1 327.6 1309.4L353.8 1274.8A320.7 320.7 0 0 0 370.4 1286.5Z" fill="#2679B7"/>
<path d="M327.9 1309.7A364.2 364.2 0 0 1 310.0 1295.2L338.4 1262.3A320.7 320.7 0 0 0 354.1 1275.0Z" fill="#A9D0E5"/>
<path d="M310.3 1295.5A364.2 364.2 0 0 1 293.3 1279.9L323.7 1248.8A320.7 320.7 0 0 0 338.6 1262.5Z" fill="#2679B7"/>
<path d="M293.6 1280.2A364.2 364.2 0 0 1 277.6 1263.6L309.9 1234.4A320.7 320.7 0 0 0 323.9 1249.0Z" fill="#A9D0E5"/>
<path d="M277.9 1263.9A364.2 364.2 0 0 1 263.0 1246.4L297.0 1219.2A320.7 320.7 0 0 0 310.1 1234.7Z" fill="#2679B7"/>
<path d="M263.2 1246.7A364.2 364.2 0 0 1 249.4 1228.2L285.0 1203.3A320.7 320.7 0 0 0 297.2 1219.5Z" fill="#A9D0E5"/>
<path d="M249.6 1228.6A364.2 364.2 0 0 1 237.0 1209.3L274.1 1186.6A320.7 320.7 0 0 0 285.2 1203.6Z" fill="#2679B7"/>
<path d="M237.2 1209.6A364.2 364.2 0 0 1 225.8 1189.7L264.3 1169.3A320.7 320.7 0 0 0 274.3 1186.9Z" fill="#A9D0E5"/>
<path d="M226.0 1190.0A364.2 364.2 0 0 1 215.8 1169.3L255.5 1151.4A320.7 320.7 0 0 0 264.4 1169.6Z" fill="#2679B7"/>
<path d="M216.0 1169.7A364.2 364.2 0 0 1 207.2 1148.5L247.8 1133.0A320.7 320.7 0 0 0 255.6 1151.7Z" fill="#A9D0E5"/>
<path d="M207.3 1148.8A364.2 364.2 0 0 1 199.8 1127.1L241.4 1114.2A320.7 320.7 0 0 0 248.0 1133.3Z" fill="#2679B7"/>
<path d="M199.9 1127.4A364.2 364.2 0 0 1 193.8 1105.2L236.1 1095.0A320.7 320.7 0 0 0 241.5 1114.5Z" fill="#A9D0E5"/>
<path d="M193.9 1105.6A364.2 364.2 0 0 1 189.1 1083.1L232.0 1075.5A320.7 320.7 0 0 0 236.1 1095.3Z" fill="#2679B7"/>
<path d="M189.2 1083.5A364.2 364.2 0 0 1 185.9 1060.7L229.1 1055.8A320.7 320.7 0 0 0 232.0 1075.8Z" fill="#A9D0E5"/>
<path d="M185.9 1061.1A364.2 364.2 0 0 1 184.0 1038.2L227.4 1035.9A320.7 320.7 0 0 0 229.1 1056.1Z" fill="#2679B7"/>
<path d="M184.0 1038.6A364.2 364.2 0 0 1 183.5 1015.5L227.0 1016.0A320.7 320.7 0 0 0 227.4 1036.3Z" fill="#A9D0E5"/>
<path d="M183.5 1015.9A364.2 364.2 0 0 1 184.5 992.9L227.8 996.1A320.7 320.7 0 0 0 227.0 1016.3Z" fill="#2679B7"/>
<path d="M184.4 993.3A364.2 364.2 0 0 1 186.8 970.4L229.9 976.3A320.7 320.7 0 0 0 227.8 996.4Z" fill="#A9D0E5"/>
<path d="M186.7 970.8A364.2 364.2 0 0 1 190.5 948.1L233.2 956.6A320.7 320.7 0 0 0 229.9 976.6Z" fill="#2679B7"/>
<path d="M190.4 948.5A364.2 364.2 0 0 1 195.6 926.1L237.7 937.2A320.7 320.7 0 0 0 233.1 957.0Z" fill="#A9D0E5"/>
<path d="M195.5 926.5A364.2 364.2 0 0 1 202.1 904.4L243.4 918.1A320.7 320.7 0 0 0 237.6 937.5Z" fill="#2679B7"/>
<path d="M202.0 904.8A364.2 364.2 0 0 1 209.9 883.2L250.2 899.4A320.7 320.7 0 0 0 243.3 918.4Z" fill="#A9D0E5"/>
<path d="M209.8 883.5A364.2 364.2 0 0 1 219.0 862.5L258.3 881.2A320.7 320.7 0 0 0 250.1 899.7Z" fill="#2679B7"/>
<path d="M218.8 862.8A364.2 364.2 0 0 1 229.4 842.3L267.4 863.5A320.7 320.7 0 0 0 258.1 881.5Z" fill="#A9D0E5"/>
<path d="M229.2 842.7A364.2 364.2 0 0 1 241.0 822.9L277.6 846.4A320.7 320.7 0 0 0 267.2 863.8Z" fill="#2679B7"/>
<path d="M240.8 823.2A364.2 364.2 0 0 1 253.8 804.3L288.9 829.9A320.7 320.7 0 0 0 277.4 846.7Z" fill="#A9D0E5"/>
<path d="M253.5 804.6A364.2 364.2 0 0 1 267.7 786.4L301.1 814.2A320.7 320.7 0 0 0 288.7 830.2Z" fill="#2679B7"/>
<path d="M267.4 786.7A364.2 364.2 0 0 1 282.7 769.5L314.3 799.3A320.7 320.7 0 0 0 300.9 814.5Z" fill="#A9D0E5"/>
<path d="M282.4 769.8A364.2 364.2 0 0 1 298.7 753.5L328.5 785.3A320.7 320.7 0 0 0 314.1 799.6Z" fill="#2679B7"/>
<path d="M298.4 753.8A364.2 364.2 0 0 1 315.7 738.6L343.4 772.1A320.7 320.7 0 0 0 328.2 785.5Z" fill="#A9D0E5"/>
<path d="M315.4 738.8A364.2 364.2 0 0 1 333.6 724.7L359.2 759.9A320.7 320.7 0 0 0 343.1 772.3Z" fill="#2679B7"/>
<path d="M343.7 717.6A364.2 364.2 0 0 1 363.1 705.3L385.2 742.8A320.7 320.7 0 0 0 368.0 753.6Z" fill="#37A230"/>
<path d="M362.8 705.5A364.2 364.2 0 0 1 383.0 694.5L402.7 733.3A320.7 320.7 0 0 0 384.9 743.0Z" fill="#B3E08C"/>
<path d="M382.6 694.7A364.2 364.2 0 0 1 403.5 684.9L420.7 724.8A320.7 320.7 0 0 0 402.4 733.4Z" fill="#37A230"/>
<path d="M403.1 685.0A364.2 364.2 0 0 1 424.5 676.6L439.2 717.5A320.7 320.7 0 0 0 420.4 725.0Z" fill="#B3E08C"/>
<path d="M424.2 676.7A364.2 364.2 0 0 1 446.0 669.6L458.2 711.3A320.7 320.7 0 0 0 438.9 717.6Z" fill="#37A230"/>
<path d="M445.7 669.7A364.2 364.2 0 0 1 467.9 663.9L477.5 706.4A320.7 320.7 0 0 0 457.9 711.4Z" fill="#B3E08C"/>
<path d="M467.6 664.0A364.2 364.2 0 0 1 490.2 659.7L497.0 702.6A320.7 320.7 0 0 0 477.1 706.5Z" fill="#37A230"/>
<path d="M489.8 659.7A364.2 364.2 0 0 1 512.6 656.8L516.8 700.1A320.7 320.7 0 0 0 496.7 702.7Z" fill="#B3E08C"/>
<path d="M512.2 656.8A364.2 364.2 0 0 1 535.2 655.3L536.7 698.8A320.7 320.7 0 0 0 516.5 700.1Z" fill="#37A230"/>
<path d="M549.9 655.4L548.3 698.3M551.7 655.4L551.2 698.3M553.5 655.4L554.2 698.4M557.7 655.5L555.2 698.4M559.5 655.6L558.1 698.5M561.4 655.7L561.1 698.6M565.5 655.8L562.0 698.6M567.3 655.9L565.0 698.8M572.5 656.2L568.2 699.0M574.3 656.4L571.2 699.2M576.1 656.5L574.1 699.4M580.2 656.9L575.1 699.5M582.1 657.0L578.0 699.7M583.9 657.2L581.0 700.0M588.0 657.6L581.9 700.1M589.8 657.8L584.9 700.5M594.9 658.5L588.0 700.8M596.8 658.7L591.0 701.2M598.6 659.0L593.9 701.6M602.7 659.6L594.9 701.8M604.5 659.9L597.8 702.2M606.3 660.2L600.7 702.7M610.4 660.8L601.7 702.9M612.2 661.2L604.6 703.4M617.3 662.1L607.7 704.0M619.1 662.5L610.7 704.5M620.9 662.8L613.6 705.1M624.9 663.7L614.5 705.3M626.7 664.1L617.4 706.0M628.5 664.5L620.3 706.6M632.5 665.4L621.2 706.8M634.3 665.9L624.1 707.5M639.3 667.1L627.2 708.3M641.1 667.6L630.1 709.1M642.9 668.1L632.9 709.8M646.8 669.2L633.9 710.1M648.6 669.7L636.7 710.9M650.4 670.2L639.6 711.7M654.3 671.4L640.5 712.0M656.1 671.9L643.3 712.9M661.0 673.5L646.4 713.8M662.7 674.1L649.2 714.8M664.5 674.7L652.0 715.7M668.4 676.0L652.9 716.0M670.1 676.6L655.7 717.0M671.9 677.2L658.5 718.0M675.7 678.7L659.4 718.4M677.5 679.3L662.2 719.4M682.3 681.2L665.1 720.6M684.0 681.9L667.9 721.7M685.7 682.6L670.6 722.8M689.5 684.2L671.5 723.1M691.2 684.9L674.3 724.3M692.9 685.6L677.0 725.5M696.6 687.3L677.9 725.9M698.3 688.0L680.6 727.1M703.0 690.2L683.5 728.4M704.6 691.0L686.1 729.7M706.3 691.8L688.8 731.0M710.0 693.6L689.7 731.4M711.7 694.4L692.3 732.7M713.3 695.3L695.0 734.1M717.0 697.2L695.8 734.5M718.6 698.0L698.4 735.9M723.1 700.5L701.3 737.4M724.7 701.4L703.9 738.8M726.3 702.3L706.5 740.3M729.9 704.3L707.3 740.8M731.5 705.2L709.8 742.3M733.1 706.2L712.4 743.8M736.6 708.3L713.2 744.3M738.2 709.3L715.8 745.8M742.6 712.0L718.5 747.5M744.1 713.0L721.0 749.1M745.7 714.0L723.5 750.7M749.1 716.2L724.3 751.2M750.7 717.3L726.7 752.9M752.2 718.3L729.2 754.5M755.6 720.6L730.0 755.1M757.1 721.7L732.4 756.8M761.3 724.7L735.0 758.6M762.8 725.8L737.4 760.4M764.3 726.9L739.8 762.1M767.6 729.3L740.6 762.7M769.0 730.4L742.9 764.5M770.5 731.6L745.3 766.3M773.7 734.1L746.0 766.9M775.2 735.3L748.4 768.7M779.2 738.5L750.8 770.8M780.6 739.7L753.1 772.6M782.0 740.9L755.4 774.6M785.1 743.5L756.1 775.2M786.5 744.7L758.4 777.1M787.9 746.0L760.6 779.1M791.0 748.7L761.3 779.7M792.4 749.9L763.5 781.7M796.2 753.4L765.9 783.8M797.5 754.7L768.1 785.9M798.8 755.9L770.2 787.9M801.8 758.8L770.9 788.6M803.1 760.1L773.0 790.7M804.4 761.4L775.1 792.8M807.3 764.3L775.8 793.4M808.6 765.6L777.9 795.6M812.2 769.4L780.1 797.9M813.4 770.7L782.1 800.0M814.7 772.1L784.1 802.2M817.5 775.1L784.8 802.9M818.7 776.5L786.8 805.1M820.0 777.8L788.7 807.3M822.7 780.9L789.4 808.0M823.9 782.3L791.3 810.3M827.2 786.3L793.4 812.7M828.4 787.7L795.3 815.0M829.5 789.1L797.2 817.3M832.1 792.3L797.8 818.0M833.3 793.8L799.6 820.4M834.4 795.2L801.4 822.7M836.9 798.5L802.0 823.4M838.1 799.9L803.8 825.8M841.1 804.1L805.7 828.4M842.2 805.6L807.5 830.8M843.3 807.1L809.2 833.2M845.7 810.4L809.8 833.9M846.7 811.9L811.5 836.4M847.8 813.4L813.2 838.8M850.1 816.9L813.7 839.6M851.1 818.4L815.3 842.1M853.9 822.7L817.1 844.8M854.9 824.3L818.7 847.3M855.9 825.8L820.3 849.8M858.1 829.3L820.8 850.6M859.0 830.9L822.3 853.1M860.0 832.5L823.9 855.7M862.1 836.0L824.3 856.5M863.0 837.6L825.8 859.0M865.5 842.1L827.4 861.8M866.4 843.7L828.9 864.4M867.3 845.3L830.3 867.0M869.3 849.0L830.7 867.9M870.1 850.6L832.1 870.5M871.0 852.2L833.5 873.1M872.9 855.9L833.9 874.0M873.7 857.6L835.2 876.6M875.9 862.2L836.7 879.5M876.7 863.8L837.9 882.2M877.5 865.5L839.2 884.9M879.2 869.3L839.6 885.7M880.0 870.9L840.8 888.4M880.7 872.6L842.0 891.1M882.4 876.4L842.4 892.0M883.1 878.1L843.6 894.8M885.1 882.9L844.8 897.7M885.7 884.6L845.9 900.5M886.4 886.3L847.0 903.2M887.9 890.1L847.3 904.1M888.6 891.9L848.4 906.9M889.2 893.6L849.4 909.7M890.6 897.5L849.7 910.6M891.2 899.2L850.7 913.4M892.9 904.1L851.8 916.4M893.5 905.8L852.7 919.2M894.0 907.6L853.6 922.0M895.3 911.5L853.9 922.9M895.8 913.3L854.8 925.8M896.3 915.0L855.6 928.6M897.5 919.0L855.9 929.5M898.0 920.8L856.7 932.4M899.4 925.7L857.6 935.5M899.8 927.5L858.3 938.3M900.3 929.3L859.1 941.2M901.3 933.3L859.3 942.1M901.7 935.1L860.0 945.0M902.1 936.9L860.7 947.9M903.1 940.9L860.9 948.8M903.4 942.7L861.5 951.7M904.5 947.7L862.2 954.9M904.9 949.6L862.7 957.8M905.2 951.4L863.3 960.7M905.9 955.4L863.5 961.6M906.3 957.2L864.0 964.6M906.6 959.1L864.5 967.5M907.2 963.1L864.6 968.4M907.5 964.9L865.1 971.4M908.3 970.0L865.6 974.5M908.5 971.9L866.0 977.5M908.7 973.7L866.3 980.4M909.2 977.8L866.4 981.3M909.4 979.6L866.8 984.3M909.6 981.5L867.1 987.3M910.0 985.6L867.2 988.2M910.2 987.4L867.5 991.2M910.6 992.5L867.7 994.3M910.7 994.4L867.9 997.3M910.9 996.2L868.1 1000.3M911.1 1000.3L868.2 1001.2M911.2 1002.2L868.3 1004.2M911.3 1004.0L868.5 1007.1M911.4 1008.1L868.5 1008.1M911.5 1010.0L868.6 1011.1M911.6 1015.1L868.7 1014.3M911.6 1017.0L868.7 1017.2M911.6 1018.8L868.7 1020.2M911.6 1022.9L868.7 1021.1M911.6 1024.8L868.7 1024.1M911.5 1026.6L868.6 1027.1M911.4 1030.7L868.6 1028.0M911.4 1032.6L868.5 1031.0M911.1 1037.7L868.4 1034.2M911.0 1039.6L868.2 1037.2M910.9 1041.4L868.0 1040.1M910.7 1045.5L868.0 1041.1M910.5 1047.3L867.7 1044.0M910.4 1049.2L867.5 1047.0M910.0 1053.3L867.4 1047.9M909.8 1055.1L867.1 1050.9M909.3 1060.2L866.8 1054.1M909.1 1062.1L866.5 1057.0M908.9 1063.9L866.1 1060.0M908.3 1068.0L866.0 1060.9M908.1 1069.8L865.6 1063.9M907.8 1071.6L865.2 1066.8M907.2 1075.7L865.0 1067.7M906.9 1077.5L864.6 1070.7M906.0 1082.6L864.0 1073.8M905.7 1084.4L863.5 1076.8M905.4 1086.2L863.0 1079.7M904.6 1090.3L862.8 1080.6M904.2 1092.1L862.2 1083.5M903.9 1093.9L861.6 1086.4M903.0 1097.9L861.4 1087.4M902.6 1099.7L860.8 1090.3M901.4 1104.7L860.0 1093.4M901.0 1106.5L859.3 1096.3M900.5 1108.3L858.6 1099.1M899.5 1112.3L858.4 1100.1M899.0 1114.1L857.6 1102.9M898.6 1115.9L856.8 1105.8M897.4 1119.8L856.6 1106.7M896.9 1121.6L855.8 1109.6M895.4 1126.5L854.8 1112.6M894.9 1128.3L854.0 1115.5M894.3 1130.1L853.1 1118.3M893.1 1134.0L852.8 1119.2M892.5 1135.7L851.8 1122.0M891.9 1137.5L850.9 1124.8M890.5 1141.4L850.5 1125.7M889.9 1143.1L849.6 1128.5M888.1 1147.9L848.5 1131.5M887.5 1149.7L847.4 1134.3M886.8 1151.4L846.3 1137.1M885.3 1155.2L846.0 1137.9M884.6 1156.9L844.9 1140.7M883.9 1158.6L843.7 1143.4M882.3 1162.4L843.4 1144.3M881.5 1164.1L842.2 1147.0M879.5 1168.8L840.9 1150.0M878.7 1170.5L839.7 1152.7M877.9 1172.2L838.4 1155.4M876.2 1175.9L838.0 1156.2M875.4 1177.6L836.8 1158.9M874.6 1179.2L835.4 1161.6M872.7 1182.9L835.0 1162.4M871.9 1184.6L833.7 1165.1M869.5 1189.1L832.2 1167.9M868.7 1190.8L830.8 1170.5M867.8 1192.4L829.4 1173.2M865.8 1196.0L829.0 1174.0M864.9 1197.6L827.5 1176.6M864.0 1199.2L826.1 1179.2M862.0 1202.8L825.6 1180.0M861.0 1204.4L824.1 1182.6M858.4 1208.8L822.4 1185.3M857.4 1210.4L820.9 1187.8M856.4 1211.9L819.3 1190.4M854.2 1215.4L818.8 1191.2M853.2 1217.0L817.2 1193.7M852.2 1218.5L815.6 1196.1M850.0 1221.9L815.1 1196.9M848.9 1223.5L813.4 1199.4M846.0 1227.7L811.6 1202.0M844.9 1229.2L809.9 1204.5M843.9 1230.7L808.2 1206.9M841.5 1234.1L807.6 1207.7M840.4 1235.6L805.9 1210.1M839.3 1237.0L804.1 1212.4M836.8 1240.3L803.5 1213.2M835.7 1241.8L801.7 1215.6M832.5 1245.8L799.8 1218.1M831.3 1247.3L797.9 1220.4M830.2 1248.7L796.0 1222.7M827.6 1251.9L795.4 1223.4M826.4 1253.3L793.5 1225.7M825.2 1254.7L791.6 1228.0M822.5 1257.8L791.0 1228.7M821.3 1259.2L789.0 1231.0M817.9 1263.1L786.9 1233.3M816.6 1264.4L784.9 1235.5M815.4 1265.8L782.9 1237.7M812.6 1268.8L782.3 1238.4M811.3 1270.2L780.2 1240.6M810.0 1271.5L778.2 1242.7M807.2 1274.5L777.5 1243.4M805.9 1275.8L775.4 1245.5M802.2 1279.4L773.2 1247.8M800.9 1280.7L771.0 1249.9M799.6 1281.9L768.9 1251.9M796.6 1284.8L768.2 1252.6M795.2 1286.0L766.0 1254.6M793.9 1287.3L763.9 1256.6M790.8 1290.1L763.2 1257.2M789.4 1291.3L760.9 1259.2M785.6 1294.7L758.5 1261.3M784.2 1295.9L756.3 1263.3M782.8 1297.1L754.0 1265.2M779.6 1299.7L753.3 1265.8M778.2 1300.9L751.0 1267.7M776.8 1302.1L748.7 1269.6M773.5 1304.6L748.0 1270.2M772.1 1305.8L745.6 1272.0M768.0 1308.9L743.1 1274.0M766.5 1310.0L740.7 1275.8M765.1 1311.1L738.4 1277.5M761.7 1313.6L737.6 1278.1M760.3 1314.7L735.2 1279.8M758.8 1315.7L732.8 1281.6M755.4 1318.1L732.0 1282.1M753.9 1319.2L729.6 1283.8M749.6 1322.0L726.9 1285.6M748.1 1323.1L724.5 1287.3M746.5 1324.1L722.0 1288.9M743.1 1326.3L721.2 1289.4M741.5 1327.3L718.7 1291.0M739.9 1328.3L716.1 1292.6M736.4 1330.4L715.3 1293.1M734.9 1331.4L712.8 1294.6M730.4 1334.0L710.0 1296.2M728.8 1334.9L707.5 1297.7M727.2 1335.8L704.9 1299.2M723.6 1337.9L704.1 1299.6M722.0 1338.7L701.5 1301.1M720.4 1339.6L698.8 1302.5M716.7 1341.6L698.0 1302.9M715.1 1342.4L695.4 1304.3M710.5 1344.7L692.5 1305.8M708.9 1345.6L689.9 1307.1M707.2 1346.4L687.2 1308.4M703.5 1348.2L686.3 1308.8M701.8 1348.9L683.7 1310.1M700.2 1349.7L681.0 1311.3M696.4 1351.4L680.1 1311.7M694.7 1352.2L677.4 1312.9M690.0 1354.2L674.5 1314.2M688.3 1354.9L671.7 1315.4M686.6 1355.6L669.0 1316.5M682.8 1357.2L668.1 1316.9M681.1 1357.9L665.3 1318.0M679.4 1358.5L662.6 1319.0M675.5 1360.0L661.7 1319.4M673.8 1360.7L658.9 1320.4M668.9 1362.4L655.9 1321.5M667.2 1363.0L653.1 1322.5M665.5 1363.6L650.3 1323.5M661.5 1364.9L649.4 1323.8M659.8 1365.5L646.6 1324.7M658.0 1366.1L643.7 1325.6M654.1 1367.3L642.8 1325.9M652.3 1367.8L640.0 1326.7M647.4 1369.3L636.9 1327.6M645.6 1369.8L634.1 1328.5M643.8 1370.3L631.2 1329.2M639.9 1371.3L630.3 1329.5M638.1 1371.8L627.4 1330.2M636.3 1372.3L624.5 1331.0M632.3 1373.2L623.6 1331.2M630.5 1373.7L620.7 1331.9M625.5 1374.8L617.6 1332.6M623.7 1375.2L614.7 1333.2M621.9 1375.6L611.8 1333.8M617.8 1376.4L610.9 1334.0M616.0 1376.7L608.0 1334.6M614.2 1377.1L605.0 1335.1M610.1 1377.8L604.1 1335.3M608.3 1378.1L601.2 1335.8M603.2 1378.9L598.0 1336.3M601.4 1379.2L595.1 1336.8M599.6 1379.5L592.2 1337.2M595.5 1380.0L591.2 1337.3M593.7 1380.3L588.3 1337.7M591.9 1380.5L585.3 1338.1M587.8 1381.0L584.4 1338.2M585.9 1381.2L581.4 1338.5M580.8 1381.7L578.2 1338.8M579.0 1381.9L575.3 1339.1M577.1 1382.0L572.3 1339.4M573.0 1382.3L571.4 1339.4M571.2 1382.4L568.4 1339.6M569.3 1382.6L565.5 1339.8M565.2 1382.8L564.5 1339.9M563.4 1382.9L561.5 1340.0M558.2 1383.0L558.3 1340.1M556.4 1383.1L555.4 1340.2M554.6 1383.1L552.4 1340.3M550.4 1383.2L551.5 1340.3M548.6 1383.2L548.5 1340.3M546.7 1383.2L545.5 1340.3M542.6 1383.2L544.6 1340.3M540.8 1383.1L541.6 1340.2M535.6 1383.0L538.4 1340.2M533.8 1382.9L535.4 1340.1M532.0 1382.9L532.5 1339.9M527.8 1382.7L531.5 1339.9M526.0 1382.6L528.6 1339.7M524.2 1382.4L525.6 1339.5M520.0 1382.1L524.6 1339.5M518.2 1382.0L521.7 1339.2M513.1 1381.5L518.5 1339.0M511.2 1381.4L515.5 1338.7M509.4 1381.2L512.6 1338.4M505.3 1380.7L511.6 1338.3M503.5 1380.5L508.7 1337.9M501.7 1380.3L505.7 1337.5M497.6 1379.7L504.8 1337.4M495.7 1379.5L501.9 1337.0M490.6 1378.7L498.7 1336.5M488.8 1378.4L495.8 1336.1M487.0 1378.1L492.8 1335.6M482.9 1377.4L491.9 1335.4M481.1 1377.1L489.0 1334.9M479.3 1376.7L486.1 1334.3M475.3 1375.9L485.1 1334.1M473.5 1375.5L482.2 1333.6M468.4 1374.5L479.1 1332.9M466.6 1374.1L476.2 1332.2M464.9 1373.6L473.3 1331.6M460.8 1372.7L472.4 1331.3M459.0 1372.2L469.5 1330.6M457.3 1371.8L466.6 1329.9M453.3 1370.7L465.7 1329.7M451.5 1370.3L462.8 1328.9M446.5 1368.9L459.8 1328.0M444.8 1368.3L456.9 1327.2M443.0 1367.8L454.1 1326.3M439.1 1366.6L453.2 1326.1M437.3 1366.1L450.3 1325.2M435.6 1365.5L447.5 1324.3M431.6 1364.2L446.6 1324.0M429.9 1363.6L443.8 1323.0M425.0 1361.9L440.8 1322.0M423.3 1361.3L438.0 1321.0M421.6 1360.6L435.2 1319.9M417.7 1359.2L434.3 1319.6M416.0 1358.5L431.5 1318.5M414.3 1357.9L428.8 1317.4M410.4 1356.3L427.9 1317.1M408.7 1355.6L425.1 1316.0M404.0 1353.6L422.2 1314.7M402.3 1352.9L419.4 1313.6M400.6 1352.2L416.7 1312.4M396.9 1350.5L415.9 1312.0M395.2 1349.7L413.2 1310.7M393.5 1348.9L410.5 1309.5M389.8 1347.1L409.6 1309.1M388.1 1346.3L406.9 1307.8M383.5 1344.1L404.1 1306.4M381.9 1343.2L401.4 1305.0M380.2 1342.4L398.8 1303.7M376.6 1340.5L397.9 1303.2M375.0 1339.6L395.3 1301.8M373.3 1338.7L392.7 1300.4M369.7 1336.7L391.9 1299.9M368.1 1335.8L389.3 1298.5M363.7 1333.2L386.5 1296.9M362.1 1332.3L384.0 1295.4M360.5 1331.4L381.4 1293.9M357.0 1329.2L380.6 1293.4M355.4 1328.2L378.1 1291.8M353.8 1327.3L375.6 1290.2M350.4 1325.0L374.8 1289.7M348.8 1324.0L372.3 1288.1M344.5 1321.2L369.6 1286.4M343.0 1320.2L367.1 1284.7M341.5 1319.1L364.7 1283.0M338.1 1316.8L363.9 1282.5M336.6 1315.7L361.5 1280.8M335.1 1314.6L359.1 1279.0M331.8 1312.2L358.3 1278.5M330.3 1311.1L355.9 1276.7M326.2 1308.0L353.4 1274.8M324.7 1306.9L351.0 1273.0M323.3 1305.7L348.7 1271.1M320.0 1303.2L347.9 1270.6M318.6 1302.0L345.6 1268.7M317.2 1300.9L343.3 1266.8M314.0 1298.2L342.6 1266.2M312.6 1297.0L340.3 1264.3M308.7 1293.7L337.9 1262.2M307.3 1292.5L335.6 1260.3M305.9 1291.3L333.4 1258.3M302.8 1288.5L332.7 1257.7M301.5 1287.3L330.5 1255.7M300.1 1286.0L328.3 1253.6M297.1 1283.2L327.6 1253.0M295.8 1281.9L325.5 1250.9M292.1 1278.3L323.2 1248.7M290.8 1277.0L321.1 1246.6M289.5 1275.7L319.0 1244.5M286.6 1272.8L318.3 1243.9M285.3 1271.4L316.2 1241.7M284.0 1270.1L314.2 1239.6M281.2 1267.1L313.5 1238.9M280.0 1265.8L311.5 1236.7M276.5 1261.9L309.4 1234.3M275.3 1260.6L307.4 1232.1M274.1 1259.2L305.4 1229.9M271.4 1256.1L304.8 1229.2M270.2 1254.7L302.9 1226.9M269.0 1253.3L301.0 1224.6M266.3 1250.1L300.4 1223.9M265.2 1248.7L298.5 1221.6M262.0 1244.6L296.5 1219.1M260.8 1243.2L294.6 1216.8M259.7 1241.7L292.8 1214.4M257.2 1238.5L292.3 1213.7M256.1 1237.0L290.5 1211.3M255.0 1235.5L288.7 1208.9M252.6 1232.2L288.1 1208.2M251.5 1230.7L286.4 1205.8M248.5 1226.5L284.6 1203.1M247.5 1224.9L282.9 1200.7M246.4 1223.4L281.2 1198.2M244.1 1220.0L280.7 1197.5M243.1 1218.5L279.0 1195.0M242.1 1216.9L277.4 1192.5M239.9 1213.4L276.9 1191.7M238.9 1211.9L275.3 1189.2M236.2 1207.5L273.7 1186.4M235.3 1205.9L272.1 1183.9M234.3 1204.3L270.6 1181.4M232.3 1200.8L270.1 1180.5M231.4 1199.2L268.6 1178.0M230.4 1197.6L267.2 1175.4M228.4 1193.9L266.7 1174.5M227.6 1192.3L265.3 1171.9M225.2 1187.8L263.8 1169.1M224.3 1186.1L262.4 1166.5M223.5 1184.5L261.1 1163.8M221.6 1180.8L260.7 1163.0M220.8 1179.2L259.3 1160.3M220.0 1177.5L258.0 1157.6M218.2 1173.8L257.6 1156.8M217.4 1172.1L256.4 1154.1M215.3 1167.4L255.0 1151.2M214.6 1165.7L253.8 1148.5M213.8 1164.1L252.7 1145.8M212.2 1160.3L252.3 1144.9M211.5 1158.6L251.1 1142.1M210.8 1156.9L250.0 1139.4M209.3 1153.0L249.7 1138.5M208.6 1151.3L248.6 1135.7M206.8 1146.5L247.4 1132.8M206.1 1144.8L246.4 1130.0M205.5 1143.0L245.4 1127.2M204.1 1139.2L245.1 1126.3M203.5 1137.4L244.1 1123.5M202.9 1135.7L243.1 1120.7M201.6 1131.8L242.8 1119.8M201.0 1130.0L241.9 1116.9M199.5 1125.1L241.0 1113.9M199.0 1123.3L240.1 1111.1M198.5 1121.6L239.3 1108.2M197.3 1117.6L239.0 1107.3M196.8 1115.8L238.2 1104.4M196.3 1114.0L237.4 1101.6M195.3 1110.0L237.2 1100.6M194.8 1108.3L236.4 1097.8M193.6 1103.3L235.7 1094.7M193.2 1101.5L235.0 1091.8M192.8 1099.7L234.3 1088.9M191.9 1095.6L234.1 1088.0M191.5 1093.8L233.5 1085.1M191.1 1092.0L232.9 1082.1M190.3 1088.0L232.7 1081.2M190.0 1086.2L232.2 1078.3M189.1 1081.1L231.6 1075.2M188.8 1079.3L231.1 1072.2M188.5 1077.5L230.6 1069.3M187.8 1073.4L230.5 1068.4M187.6 1071.6L230.0 1065.4M187.3 1069.8L229.6 1062.5M186.8 1065.7L229.5 1061.5M186.5 1063.8L229.1 1058.6M185.9 1058.7L228.7 1055.4M185.7 1056.9L228.4 1052.5M185.6 1055.1L228.1 1049.5M185.2 1051.0L228.0 1048.6M185.0 1049.1L227.8 1045.6M184.9 1047.3L227.5 1042.6M184.6 1043.2L227.5 1041.7M184.5 1041.3L227.3 1038.7M184.2 1036.2L227.1 1035.5M184.1 1034.3L227.0 1032.6M184.0 1032.5L226.9 1029.6M183.9 1028.4L226.8 1028.7M183.9 1026.5L226.8 1025.7M183.8 1024.7L226.7 1022.7M183.8 1020.6L226.7 1021.8M183.8 1018.7L226.7 1018.8M183.8 1013.6L226.7 1015.6M183.9 1011.7L226.8 1012.6M183.9 1009.9L226.8 1009.7M184.1 1005.8L226.9 1008.7M184.1 1003.9L227.0 1005.7M184.2 1002.1L227.1 1002.8M184.4 998.0L227.2 1001.8M184.5 996.1L227.4 998.9M184.9 991.0L227.6 995.7M185.0 989.2L227.8 992.7M185.2 987.3L228.1 989.8M185.6 983.2L228.2 988.8M185.8 981.4L228.4 985.9M186.0 979.6L228.8 982.9M186.5 975.5L228.9 982.0M186.7 973.6L229.2 979.0M187.4 968.5L229.7 975.8M187.6 966.7L230.1 972.9M187.9 964.9L230.5 970.0M188.5 960.8L230.7 969.0M188.8 959.0L231.1 966.1M189.1 957.2L231.6 963.2M189.9 953.1L231.8 962.2M190.2 951.3L232.4 959.3M191.2 946.3L233.0 956.2M191.6 944.4L233.6 953.3M192.0 942.6L234.2 950.4M192.9 938.6L234.4 949.4M193.3 936.8L235.1 946.5M193.7 935.0L235.7 943.7M194.7 931.0L236.0 942.7M195.1 929.2L236.7 939.9M196.4 924.3L237.5 936.8M196.9 922.5L238.3 933.9M197.4 920.7L239.1 931.0M198.6 916.7L239.3 930.1M199.1 915.0L240.2 927.3M199.6 913.2L241.0 924.4M200.8 909.3L241.3 923.5M201.4 907.5L242.2 920.7M203.0 902.6L243.2 917.7M203.6 900.9L244.2 914.8M204.2 899.1L245.1 912.0M205.6 895.3L245.5 911.1M206.2 893.5L246.5 908.4M206.9 891.8L247.5 905.6M208.3 887.9L247.9 904.7M209.0 886.2L248.9 901.9M210.9 881.5L250.1 898.9M211.6 879.7L251.2 896.2M212.3 878.0L252.4 893.5M214.0 874.3L252.8 892.6M214.7 872.6L254.0 889.9M215.4 870.9L255.2 887.2M217.1 867.1L255.6 886.3M217.9 865.5L256.8 883.6M220.1 860.8L258.2 880.7M220.9 859.1L259.5 878.0M221.8 857.5L260.8 875.4M223.6 853.8L261.2 874.5M224.4 852.2L262.6 871.9M225.3 850.5L263.9 869.2M227.2 846.9L264.4 868.4M228.1 845.3L265.8 865.8M230.6 840.8L267.3 863.0M231.5 839.2L268.8 860.4M232.4 837.6L270.3 857.8M234.5 834.0L270.7 857.0M235.5 832.4L272.3 854.5M236.4 830.8L273.8 851.9M238.6 827.3L274.3 851.1M239.5 825.8L275.9 848.6M242.3 821.4L277.6 845.9M243.3 819.9L279.2 843.4M244.3 818.3L280.8 840.9M246.6 814.9L281.4 840.1M247.7 813.4L283.0 837.7M248.7 811.9L284.7 835.2M251.1 808.5L285.3 834.4M252.1 807.0L287.0 832.0M255.2 802.8L288.9 829.4M256.3 801.4L290.6 827.1M257.4 799.9L292.4 824.7M259.9 796.6L293.0 823.9M261.0 795.2L294.8 821.6M262.2 793.7L296.7 819.3M264.7 790.5L297.3 818.5M265.9 789.1L299.1 816.2M269.2 785.1L301.2 813.7M270.4 783.7L303.1 811.5M271.6 782.3L305.0 809.2M274.3 779.2L305.6 808.5M275.5 777.8L307.6 806.3M276.7 776.4L309.6 804.1M279.5 773.4L310.2 803.3M280.7 772.0L312.2 801.2M284.3 768.3L314.4 798.8M285.5 766.9L316.4 796.7M286.8 765.6L318.5 794.5M289.7 762.7L319.2 793.9M291.0 761.4L321.3 791.8M292.3 760.1L323.4 789.7M295.3 757.2L324.1 789.0M296.6 755.9L326.2 787.0M300.4 752.4L328.5 784.8M301.7 751.1L330.7 782.7M303.1 749.9L332.9 780.8M306.1 747.1L333.6 780.1M307.5 745.9L335.8 778.1M308.9 744.7L338.1 776.2M312.0 742.0L338.8 775.6M313.4 740.8L341.1 773.7M317.4 737.5L343.5 771.6M318.8 736.4L345.8 769.7M320.3 735.2L348.1 767.9M323.5 732.7L348.9 767.3M325.0 731.5L351.2 765.5M326.4 730.4L353.6 763.6M329.7 727.9L354.3 763.1M331.2 726.8L356.7 761.3M345.8 716.6L368.5 753.0M347.3 715.5L370.9 751.3M348.9 714.5L373.4 749.7M352.3 712.3L374.2 749.2M353.9 711.3L376.7 747.6M355.5 710.3L379.3 746.0M359.0 708.2L380.1 745.5M360.5 707.2L382.6 744.0M365.0 704.6L385.4 742.4M366.6 703.7L387.9 740.9M368.2 702.8L390.5 739.4M371.8 700.7L391.3 739.0M373.4 699.9L393.9 737.5M375.0 699.0L396.6 736.1M378.7 697.0L397.4 735.7M380.3 696.2L400.0 734.3M384.9 693.9L402.9 732.8M386.5 693.0L405.5 731.5M388.2 692.2L408.2 730.2M391.9 690.4L409.1 729.8M393.6 689.7L411.7 728.5M395.2 688.9L414.4 727.3M399.0 687.2L415.3 726.9M400.7 686.4L418.0 725.7M405.4 684.4L420.9 724.4M407.1 683.7L423.7 723.2M408.8 683.0L426.4 722.1M412.6 681.4L427.3 721.7M414.3 680.7L430.1 720.6M416.0 680.1L432.8 719.6M419.9 678.6L433.7 719.2M421.6 677.9L436.5 718.2M426.5 676.2L439.5 717.1M428.2 675.6L442.3 716.1M429.9 675.0L445.1 715.1M433.9 673.7L446.0 714.8M435.6 673.1L448.8 713.9M437.4 672.5L451.7 713.0M441.3 671.3L452.6 712.7M443.1 670.8L455.4 711.9M448.0 669.3L458.5 711.0M449.8 668.8L461.3 710.1M451.6 668.3L464.2 709.4M455.5 667.3L465.1 709.1M457.3 666.8L468.0 708.4M459.1 666.3L470.9 707.6M463.1 665.4L471.8 707.4M464.9 664.9L474.7 706.7M469.9 663.8L477.8 706.0M471.7 663.4L480.7 705.4M473.5 663.0L483.6 704.8M477.6 662.2L484.5 704.6M479.4 661.9L487.4 704.0M481.2 661.5L490.4 703.5M485.3 660.8L491.3 703.3M487.1 660.5L494.2 702.8M492.2 659.7L497.4 702.3M494.0 659.4L500.3 701.8M495.8 659.1L503.2 701.4M499.9 658.6L504.2 701.3M501.7 658.3L507.1 700.9M503.5 658.1L510.1 700.5M507.6 657.6L511.0 700.4M509.5 657.4L514.0 700.1M514.6 656.9L517.2 699.8M516.4 656.7L520.1 699.5M518.3 656.6L523.1 699.2M522.4 656.3L524.0 699.2M524.2 656.2L527.0 699.0M526.1 656.0L529.9 698.8M530.2 655.8L530.9 698.7M532.0 655.7L533.9 698.6" stroke="#fff" stroke-opacity="0.2" stroke-width="1" fill="none"/>
<g font-size="9.3" fill="#111" stroke="#111" stroke-width="0.25">
<text transform="translate(562.1 687.5) rotate(-88.2)" y="2.2">G68</text>
<text transform="translate(582.7 688.7) rotate(-84.7)" y="2.2">G57</text>
<text transform="translate(603.2 691.3) rotate(-81.1)" y="2.2">G110</text>
<text transform="translate(623.4 695.1) rotate(-77.5)" y="2.2">G4</text>
<text transform="translate(643.4 700.2) rotate(-74.0)" y="2.2">G22</text>
<text transform="translate(663.1 706.5) rotate(-70.4)" y="2.2">G55</text>
<text transform="translate(682.3 714.0) rotate(-66.9)" y="2.2">G16</text>
<text transform="translate(701.0 722.7) rotate(-63.3)" y="2.2">G13</text>
<text transform="translate(719.1 732.5) rotate(-59.7)" y="2.2">G2</text>
<text transform="translate(736.6 743.5) rotate(-56.2)" y="2.2">G86</text>
<text transform="translate(753.4 755.5) rotate(-52.6)" y="2.2">G7</text>
<text transform="translate(769.3 768.5) rotate(-49.1)" y="2.2">G8</text>
<text transform="translate(784.5 782.5) rotate(-45.5)" y="2.2">G10</text>
<text transform="translate(798.8 797.4) rotate(-41.9)" y="2.2">G82</text>
<text transform="translate(812.1 813.2) rotate(-38.4)" y="2.2">G70</text>
<text transform="translate(824.4 829.7) rotate(-34.8)" y="2.2">G30</text>
<text transform="translate(835.6 847.0) rotate(-31.3)" y="2.2">G17</text>
<text transform="translate(845.8 865.0) rotate(-27.7)" y="2.2">G111</text>
<text transform="translate(854.8 883.5) rotate(-24.1)" y="2.2">G33</text>
<text transform="translate(862.6 902.6) rotate(-20.6)" y="2.2">G5</text>
<text transform="translate(869.3 922.1) rotate(-17.0)" y="2.2">G11</text>
<text transform="translate(874.7 942.0) rotate(-13.5)" y="2.2">G94</text>
<text transform="translate(878.9 962.2) rotate(-9.9)" y="2.2">G1</text>
<text transform="translate(881.8 982.6) rotate(-6.3)" y="2.2">G40</text>
<text transform="translate(883.4 1003.2) rotate(-2.8)" y="2.2">G107</text>
<text transform="translate(883.8 1023.8) rotate(0.8)" y="2.2">G121</text>
<text transform="translate(882.8 1044.4) rotate(4.3)" y="2.2">G116</text>
<text transform="translate(880.6 1064.9) rotate(7.9)" y="2.2">G72</text>
<text transform="translate(877.2 1085.3) rotate(11.5)" y="2.2">G26</text>
<text transform="translate(872.5 1105.3) rotate(15.0)" y="2.2">G61</text>
<text transform="translate(866.5 1125.1) rotate(18.6)" y="2.2">G24</text>
<text transform="translate(859.3 1144.4) rotate(22.1)" y="2.2">G95</text>
<text transform="translate(851.0 1163.3) rotate(25.7)" y="2.2">G3</text>
<text transform="translate(841.4 1181.6) rotate(29.3)" y="2.2">G9</text>
<text transform="translate(830.8 1199.2) rotate(32.8)" y="2.2">G21</text>
<text transform="translate(819.1 1216.2) rotate(36.4)" y="2.2">G64</text>
<text transform="translate(806.4 1232.4) rotate(39.9)" y="2.2">G97</text>
<text transform="translate(792.6 1247.8) rotate(43.5)" y="2.2">G93</text>
<text transform="translate(778.0 1262.3) rotate(47.1)" y="2.2">G50</text>
<text transform="translate(762.4 1275.9) rotate(50.6)" y="2.2">G99</text>
<text transform="translate(746.1 1288.5) rotate(54.2)" y="2.2">G12</text>
<text transform="translate(729.0 1300.1) rotate(57.7)" y="2.2">G29</text>
<text transform="translate(711.2 1310.5) rotate(61.3)" y="2.2">G83</text>
<text transform="translate(692.8 1319.9) rotate(64.9)" y="2.2">G79</text>
<text transform="translate(673.9 1328.0) rotate(68.4)" y="2.2">G59</text>
<text transform="translate(654.5 1335.0) rotate(72.0)" y="2.2">G126</text>
<text transform="translate(634.7 1340.8) rotate(75.5)" y="2.2">G58</text>
<text transform="translate(614.6 1345.3) rotate(79.1)" y="2.2">G122</text>
<text transform="translate(594.2 1348.6) rotate(82.7)" y="2.2">G113</text>
<text transform="translate(573.7 1350.6) rotate(86.2)" y="2.2">G48</text>
<text transform="translate(553.1 1351.3) rotate(89.8)" y="2.2">G87</text>
<text transform="translate(524.3 1350.7) rotate(273.3)" y="2.2" text-anchor="end">G43</text>
<text transform="translate(503.7 1348.9) rotate(276.9)" y="2.2" text-anchor="end">G123</text>
<text transform="translate(483.3 1345.8) rotate(280.5)" y="2.2" text-anchor="end">G46</text>
<text transform="translate(463.2 1341.4) rotate(284.0)" y="2.2" text-anchor="end">G84</text>
<text transform="translate(443.3 1335.8) rotate(287.6)" y="2.2" text-anchor="end">G52</text>
<text transform="translate(423.9 1329.0) rotate(291.1)" y="2.2" text-anchor="end">G35</text>
<text transform="translate(404.9 1320.9) rotate(294.7)" y="2.2" text-anchor="end">G101</text>
<text transform="translate(386.4 1311.7) rotate(298.3)" y="2.2" text-anchor="end">G20</text>
<text transform="translate(368.6 1301.4) rotate(301.8)" y="2.2" text-anchor="end">G112</text>
<text transform="translate(351.4 1290.0) rotate(305.4)" y="2.2" text-anchor="end">G117</text>
<text transform="translate(334.9 1277.5) rotate(308.9)" y="2.2" text-anchor="end">G119</text>
<text transform="translate(319.3 1264.1) rotate(312.5)" y="2.2" text-anchor="end">G49</text>
<text transform="translate(304.5 1249.7) rotate(316.1)" y="2.2" text-anchor="end">G102</text>
<text transform="translate(290.7 1234.4) rotate(319.6)" y="2.2" text-anchor="end">G76</text>
<text transform="translate(277.8 1218.3) rotate(323.2)" y="2.2" text-anchor="end">G39</text>
<text transform="translate(266.0 1201.4) rotate(326.7)" y="2.2" text-anchor="end">G108</text>
<text transform="translate(255.2 1183.8) rotate(330.3)" y="2.2" text-anchor="end">G89</text>
<text transform="translate(245.6 1165.6) rotate(333.9)" y="2.2" text-anchor="end">G100</text>
<text transform="translate(237.0 1146.8) rotate(337.4)" y="2.2" text-anchor="end">G38</text>
<text transform="translate(229.7 1127.5) rotate(341.0)" y="2.2" text-anchor="end">G66</text>
<text transform="translate(223.6 1107.8) rotate(344.5)" y="2.2" text-anchor="end">G71</text>
<text transform="translate(218.7 1087.8) rotate(348.1)" y="2.2" text-anchor="end">G114</text>
<text transform="translate(215.1 1067.5) rotate(351.7)" y="2.2" text-anchor="end">G23</text>
<text transform="translate(212.8 1047.0) rotate(355.2)" y="2.2" text-anchor="end">G28</text>
<text transform="translate(211.7 1026.4) rotate(358.8)" y="2.2" text-anchor="end">G73</text>
<text transform="translate(211.9 1005.7) rotate(362.3)" y="2.2" text-anchor="end">G25</text>
<text transform="translate(213.4 985.2) rotate(365.9)" y="2.2" text-anchor="end">G19</text>
<text transform="translate(216.1 964.7) rotate(369.5)" y="2.2" text-anchor="end">G53</text>
<text transform="translate(220.1 944.5) rotate(373.0)" y="2.2" text-anchor="end">G63</text>
<text transform="translate(225.4 924.6) rotate(376.6)" y="2.2" text-anchor="end">G81</text>
<text transform="translate(231.9 905.0) rotate(380.1)" y="2.2" text-anchor="end">G88</text>
<text transform="translate(239.6 885.9) rotate(383.7)" y="2.2" text-anchor="end">G36</text>
<text transform="translate(248.5 867.2) rotate(387.3)" y="2.2" text-anchor="end">G44</text>
<text transform="translate(258.5 849.2) rotate(390.8)" y="2.2" text-anchor="end">G14</text>
<text transform="translate(269.6 831.8) rotate(394.4)" y="2.2" text-anchor="end">G96</text>
<text transform="translate(281.8 815.2) rotate(397.9)" y="2.2" text-anchor="end">G91</text>
<text transform="translate(294.9 799.3) rotate(401.5)" y="2.2" text-anchor="end">G27</text>
<text transform="translate(309.1 784.3) rotate(405.1)" y="2.2" text-anchor="end">G67</text>
<text transform="translate(324.1 770.2) rotate(408.6)" y="2.2" text-anchor="end">G109</text>
<text transform="translate(340.0 757.0) rotate(412.2)" y="2.2" text-anchor="end">G62</text>
<text transform="translate(366.4 738.5) rotate(417.7)" y="2.2" text-anchor="end">IC6</text>
<text transform="translate(384.2 728.1) rotate(421.3)" y="2.2" text-anchor="end">C4</text>
<text transform="translate(402.6 718.7) rotate(424.9)" y="2.2" text-anchor="end">C8</text>
<text transform="translate(421.5 710.6) rotate(428.4)" y="2.2" text-anchor="end">C6</text>
<text transform="translate(440.9 703.6) rotate(432.0)" y="2.2" text-anchor="end">IC4</text>
<text transform="translate(460.7 697.8) rotate(435.5)" y="2.2" text-anchor="end">C2</text>
<text transform="translate(480.8 693.3) rotate(439.1)" y="2.2" text-anchor="end">C3</text>
<text transform="translate(501.2 690.0) rotate(442.7)" y="2.2" text-anchor="end">C7</text>
<text transform="translate(521.7 688.0) rotate(446.2)" y="2.2" text-anchor="end">C5</text>
</g>
<path d="M415.2 736.9C547.7 1019.3 547.7 1019.3 859.3 1004.2" fill="none" stroke="#FF0000" stroke-width="2"/>
<path d="M381.2 755.5C547.7 1019.3 547.7 1019.3 853.5 1081.3" fill="none" stroke="#0000FF" stroke-width="2"/>
<path d="M451.2 722.6C547.7 1019.3 547.7 1019.3 633.8 719.4" fill="none" stroke="#0000FF" stroke-width="2"/>
<path d="M451.2 722.6C547.7 1019.3 547.7 1019.3 652.3 725.3" fill="none" stroke="#0000FF" stroke-width="2"/>
<path d="M451.2 722.6C547.7 1019.3 547.7 1019.3 670.3 732.4" fill="none" stroke="#0000FF" stroke-width="2"/>
<path d="M451.2 722.6C547.7 1019.3 547.7 1019.3 687.9 740.6" fill="none" stroke="#0000FF" stroke-width="2"/>
<path d="M451.2 722.6C547.7 1019.3 547.7 1019.3 704.9 749.8" fill="none" stroke="#0000FF" stroke-width="2"/>
<path d="M451.2 722.6C547.7 1019.3 547.7 1019.3 737.1 771.4" fill="none" stroke="#0000FF" stroke-width="2"/>
<path d="M451.2 722.6C547.7 1019.3 547.7 1019.3 752.1 783.6" fill="none" stroke="#0000FF" stroke-width="2"/>
<path d="M451.2 722.6C547.7 1019.3 547.7 1019.3 766.4 796.8" fill="none" stroke="#0000FF" stroke-width="2"/>
<path d="M451.2 722.6C547.7 1019.3 547.7 1019.3 779.8 810.8" fill="none" stroke="#0000FF" stroke-width="2"/>
<path d="M451.2 722.6C547.7 1019.3 547.7 1019.3 832.4 891.7" fill="none" stroke="#0000FF" stroke-width="2"/>
<path d="M451.2 722.6C547.7 1019.3 547.7 1019.3 839.8 909.6" fill="none" stroke="#0000FF" stroke-width="2"/>
<path d="M451.2 722.6C547.7 1019.3 547.7 1019.3 846.0 928.0" fill="none" stroke="#0000FF" stroke-width="2"/>
<path d="M451.2 722.6C547.7 1019.3 547.7 1019.3 855.1 965.7" fill="none" stroke="#0000FF" stroke-width="2"/>
<path d="M451.2 722.6C547.7 1019.3 547.7 1019.3 853.5 1081.3" fill="none" stroke="#0000FF" stroke-width="2"/>
<path d="M451.2 722.6C547.7 1019.3 547.7 1019.3 828.8 1154.6" fill="none" stroke="#0000FF" stroke-width="2"/>
<path d="M415.2 736.9C547.7 1019.3 547.7 1019.3 803.8 841.1" fill="none" stroke="#0000FF" stroke-width="2"/>
<path d="M415.2 736.9C547.7 1019.3 547.7 1019.3 809.9 1188.4" fill="none" stroke="#0000FF" stroke-width="2"/>
<path d="M415.2 736.9C547.7 1019.3 547.7 1019.3 760.2 1247.7" fill="none" stroke="#0000FF" stroke-width="2"/>
<path d="M415.2 736.9C547.7 1019.3 547.7 1019.3 730.3 1272.3" fill="none" stroke="#0000FF" stroke-width="2"/>
<polyline points="561.6,571.7 587.4,594.7 616.5,579.9 642.1,592.2 673.1,582.6 697.8,597.2 721.6,612.4 750.3,616.4 761.0,653.8 797.9,645.8 822.1,660.1 843.9,677.9 864.5,696.9 883.4,717.7 866.0,767.2 914.8,763.9 894.7,808.7 946.3,810.0 961.3,834.0 970.9,860.4 979.1,887.2 943.6,924.5 960.2,947.3 952.9,974.3 974.5,998.6 990.1,1025.3 986.8,1052.6 952.8,1075.5 996.5,1110.3 943.4,1125.5 968.0,1160.6 927.6,1173.9 957.2,1216.4 915.8,1225.5 908.8,1252.2 889.9,1271.4 885.3,1302.0 859.2,1314.9 827.6,1320.0 825.0,1357.2 794.2,1360.8 766.7,1366.3 744.6,1379.0 722.2,1391.1 707.9,1424.3 678.3,1420.9 650.4,1417.6 625.6,1423.6 602.8,1447.0 575.6,1441.7 549.3,1438.5 523.6,1432.6 494.7,1457.4 470.5,1437.5 444.9,1431.1 422.5,1414.4 398.2,1406.0 374.2,1396.4 345.6,1395.3 323.9,1380.0 307.1,1358.2 274.6,1357.3 256.2,1337.4 239.0,1316.8 223.1,1295.4 214.0,1269.1 189.0,1254.6 185.4,1226.0 172.8,1203.3 147.7,1185.6 152.9,1155.4 134.5,1133.6 134.1,1106.5 126.1,1081.1 129.5,1054.3 126.0,1028.3 117.1,1001.7 120.1,975.1 124.4,948.8 134.3,923.7 145.6,899.6 139.4,869.6 150.8,845.1 174.3,826.9 183.4,802.0 200.9,782.0 213.5,758.7 231.0,739.1 249.9,720.9 266.7,700.3 285.8,681.9" fill="none" stroke="#F8766D" stroke-width="1.6" stroke-linejoin="round"/>
<polyline points="337.1,685.6 350.4,658.9 376.0,653.5 398.9,643.2 423.3,636.9 443.6,615.8 468.2,606.6 494.5,606.4 520.9,613.2" fill="none" stroke="#F8766D" stroke-width="1.6" stroke-linejoin="round"/>
<polyline points="561.3,580.7 584.7,623.5 609.6,623.7 634.3,627.2 658.9,632.1 682.9,639.1 706.5,647.6 729.4,658.0 751.5,670.0 772.8,683.3 793.3,697.9 812.8,713.7 831.4,730.6 849.0,748.6 886.3,751.1 881.1,787.4 921.4,792.4 920.9,823.4 918.7,853.1 928.0,876.5 936.3,900.3 965.5,919.3 949.2,949.2 978.2,971.5 990.5,997.8 975.0,1025.1 975.3,1051.7 987.5,1080.3 949.1,1100.7 984.6,1136.5 950.0,1154.5 947.9,1182.1 916.4,1196.8 904.7,1219.3 891.7,1241.1 903.5,1281.4 874.6,1293.0 845.2,1301.7 826.8,1319.2 807.3,1335.6 787.6,1351.8 768.7,1369.5 758.9,1405.1 736.5,1421.5 698.9,1401.5 674.7,1409.9 650.3,1417.3 626.7,1429.8 600.3,1427.7 574.9,1430.8 549.4,1461.7 523.4,1435.3 498.0,1430.4 472.5,1426.5 442.0,1442.6 414.1,1441.0 394.6,1415.3 363.0,1421.0 342.3,1401.5 328.5,1372.5 298.7,1369.9 280.0,1350.6 257.0,1336.6 234.6,1321.0 217.4,1300.2 210.4,1271.8 187.1,1255.8 164.7,1237.7 157.2,1210.9 154.6,1182.8 142.9,1158.8 132.5,1134.1 121.4,1109.1 120.2,1082.0 130.3,1054.2 111.4,1028.6 120.8,1001.9 120.0,975.1 124.0,948.7 138.7,924.7 129.6,894.8 153.2,874.6 159.7,849.0 161.2,820.1 186.8,804.0 200.0,781.4 205.9,752.8 222.1,731.3 240.2,711.2 267.7,701.5 286.9,683.3" fill="none" stroke="#00BA38" stroke-width="1.9" stroke-linejoin="round"/>
<polyline points="313.1,647.6 330.5,622.7 352.8,604.1 380.0,595.4 406.2,584.3 437.3,591.0 465.0,589.9 491.7,584.7 519.6,593.4" fill="none" stroke="#00BA38" stroke-width="1.9" stroke-linejoin="round"/>
<polyline points="560.0,625.0 589.6,571.2 614.5,592.9 642.2,591.8 664.0,614.3 690.7,617.4 716.8,623.5 737.4,642.0 773.0,633.1 783.0,668.0 804.0,683.8 824.0,700.8 842.8,719.0 860.3,738.4 889.9,748.3 896.4,776.8 917.4,794.9 908.1,830.1 929.1,848.4 941.1,871.6 949.3,896.4 974.5,917.1 987.6,942.5 979.4,971.3 955.0,999.5 955.7,1024.9 954.9,1050.2 966.8,1077.5 949.1,1100.7 948.7,1126.9 936.0,1149.8 948.2,1182.3 919.6,1198.3 933.0,1235.2 912.8,1254.7 878.0,1262.7 862.4,1282.8 862.2,1317.8 855.1,1349.7 818.9,1349.7 805.4,1376.3 786.4,1397.5 751.2,1391.0 726.2,1399.6 704.8,1416.6 683.4,1436.6 659.8,1454.2 631.4,1453.7 602.7,1446.4 576.5,1455.8 549.3,1433.5 522.0,1459.7 497.4,1435.4 468.9,1446.0 447.4,1421.2 421.3,1418.3 391.1,1424.4 373.1,1398.9 351.0,1385.2 319.4,1387.2 299.0,1369.6 286.7,1342.2 267.0,1325.6 248.3,1307.8 230.3,1289.3 198.5,1280.7 199.2,1247.9 183.3,1227.1 167.9,1205.7 162.1,1179.6 139.5,1160.0 144.8,1130.7 139.5,1105.3 134.2,1079.9 113.7,1055.6 129.1,1028.2 129.0,1002.2 131.0,976.2 134.3,950.4 128.5,922.4 144.2,899.2 152.3,874.3 163.2,850.5 172.5,826.0 176.6,797.9 189.8,774.4 216.1,760.8 232.9,740.8 250.7,721.7 265.2,698.7 287.8,684.5" fill="none" stroke="#619CFF" stroke-width="1.7" stroke-linejoin="round"/>
<polyline points="322.0,661.8 357.1,671.2 378.4,658.6 400.6,647.4 423.6,637.8 447.2,629.6 471.3,622.8 495.9,617.5 519.8,597.1" fill="none" stroke="#619CFF" stroke-width="1.7" stroke-linejoin="round"/>
<g font-size="19.78">
<text transform="translate(679.3 576.3) rotate(-68.2)">Lawsonella</text>
<text transform="translate(709.9 587.1) rotate(-65.2)">Fenollaria</text>
<text transform="translate(739.8 610.5) rotate(-61.6)">Campylobacter</text>
<text transform="translate(767.2 627.3) rotate(-55.1)">Porphyromonas</text>
<text transform="translate(796.5 643.6) rotate(-53.4)">Rothia</text>
<text transform="translate(833.1 660.8) rotate(-47.4)">Eremococcus</text>
<text transform="translate(858.0 684.7) rotate(-39.8)">Trueperella</text>
<text transform="translate(884.8 708.4) rotate(-38.8)">Peptostreptococcales-Tissierellales;W5053</text>
<text transform="translate(901.5 731.0) rotate(-35.2)">Finegoldia</text>
<text transform="translate(925.6 771.3) rotate(-27.0)">Ezakiella</text>
<text transform="translate(962.3 833.3) rotate(-21.9)">Peptoniphilus</text>
<text transform="translate(974.7 864.9) rotate(-18.4)">Fastidiosipila</text>
<text transform="translate(984.4 891.1) rotate(-11.4)">Gallicola</text>
<text transform="translate(992.6 943.0) rotate(-10.6)">Actinomyces</text>
<text transform="translate(998.8 990.9) rotate(-8.7)">[Eubacterium]_coprostanoligenes</text>
<text transform="translate(1002.1 1014.3) rotate(-8.7)">_group</text>
<text transform="translate(996.8 1121.4) rotate(13.6)">Anaerococcus</text>
<text transform="translate(961.2 1216.7) rotate(20.1)">Murdochiella</text>
<text transform="translate(931.8 1273.6) rotate(32.2)">Veillonella</text>
<text transform="translate(859.9 1347.9) rotate(40.3)">Haemophilus</text>
<text transform="translate(817.4 1383.1) rotate(46.9)">Comamonas</text>
</g>
</g>
<g id="panelC">
<text x="1169.8" y="45.2" font-size="46.8" font-weight="bold">C</text>
<g font-size="17.4">
<text x="1306.9" y="23.9">G68:</text><text x="1358.8" y="23.9">Marvinbryantia</text>
<text x="1306.9" y="44.7">G57:</text><text x="1358.8" y="44.7">Turicibacter</text>
<text x="1306.9" y="65.6">G110:</text><text x="1358.8" y="65.6">Lachnospiraceae;[Eubacterium]_hallii_group</text>
<text x="1306.9" y="86.4">G4:</text><text x="1358.8" y="86.4">Peptococcus</text>
<text x="1306.9" y="107.3">G86:</text><text x="1358.8" y="107.3">Terrisporobacter</text>
<text x="1306.9" y="128.1">G70:</text><text x="1358.8" y="128.1">Lachnospiraceae_FCS020_group</text>
<text x="1306.9" y="149.0">G17:</text><text x="1358.8" y="149.0">Enterorhabdus</text>
<text x="1306.9" y="169.8">G111:</text><text x="1358.8" y="169.8">Romboutsia</text>
<text x="1306.9" y="190.6">G94:</text><text x="1358.8" y="190.6">Megamonas</text>
<text x="1306.9" y="211.5">G40:</text><text x="1358.8" y="211.5">Libanicoccus</text>
<text x="1306.9" y="232.3">G121:</text><text x="1358.8" y="232.3">Dorea</text>
<text x="1306.9" y="253.2">G116:</text><text x="1358.8" y="253.2">Clostridium_sensu_stricto_1</text>
<text x="1306.9" y="274.0">G72:</text><text x="1358.8" y="274.0">Prevotellaceae;uncultured</text>
<text x="1306.9" y="294.8">G61:</text><text x="1358.8" y="294.8">Slackia</text>
<text x="1306.9" y="315.7">G24:</text><text x="1358.8" y="315.7">Anaeroplasma</text>
<text x="1306.9" y="336.5">G95:</text><text x="1358.8" y="336.5">Lachnospiraceae_NK4A136_group</text>
<text x="1306.9" y="357.4">G9:</text><text x="1358.8" y="357.4">Erysipelatoclostridiaceae;UCG-004</text>
<text x="1306.9" y="378.2">G64:</text><text x="1358.8" y="378.2">Sarcina</text>
<text x="1306.9" y="399.1">G97:</text><text x="1358.8" y="399.1">Mitsuokella</text>
<text x="1306.9" y="419.9">G93:</text><text x="1358.8" y="419.9">Intestinibacter</text>
<text x="1306.9" y="440.7">G99:</text><text x="1358.8" y="440.7">Escherichia-Shigella</text>
<text x="1306.9" y="461.6">G29:</text><text x="1358.8" y="461.6">Klebsiella</text>
<text x="1306.9" y="482.4">G83:</text><text x="1358.8" y="482.4">Lachnospiraceae;[Eubacterium]_ruminantium_group</text>
<text x="1306.9" y="503.3">G79:</text><text x="1358.8" y="503.3">Sutterella</text>
<text x="1306.9" y="524.1">G59:</text><text x="1358.8" y="524.1">Lachnospiraceae_UCG-004</text>
<text x="1306.9" y="544.9">G126:</text><text x="1358.8" y="544.9">Bifidobacterium</text>
<text x="1306.9" y="565.8">G58:</text><text x="1358.8" y="565.8">Enterococcus</text>
<text x="1306.9" y="586.6">G122:</text><text x="1358.8" y="586.6">Lactobacillus</text>
<text x="1306.9" y="607.5">G113:</text><text x="1358.8" y="607.5">Fusicatenibacter</text>
<text x="1306.9" y="628.3">G48:</text><text x="1358.8" y="628.3">Ruminococcaceae;Incertae_Sedis</text>
<text x="1306.9" y="649.2">G87:</text><text x="1358.8" y="649.2">Lachnospiraceae;[Ruminococcus]_gauvreauii_group</text>
<text x="1306.9" y="670.0">G43:</text><text x="1358.8" y="670.0">Saccharimonadales</text>
<text x="1306.9" y="690.8">G123:</text><text x="1358.8" y="690.8">Blautia</text>
<text x="1306.9" y="711.7">G46:</text><text x="1358.8" y="711.7">Oscillospiraceae;UCG-003</text>
<text x="1306.9" y="732.5">G84:</text><text x="1358.8" y="732.5">Olsenella</text>
<text x="1306.9" y="753.4">G52:</text><text x="1358.8" y="753.4">Clostridia_UCG-014</text>
<text x="1306.9" y="774.2">G35:</text><text x="1358.8" y="774.2">Clostridia_vadinBB60_group</text>
<text x="1306.9" y="795.1">G101:</text><text x="1358.8" y="795.1">Ruminococcaceae;CAG-352</text>
<text x="1306.9" y="815.9">G20:</text><text x="1358.8" y="815.9">Lachnospiraceae;[Eubacterium]_ventriosum_group</text>
<text x="1306.9" y="836.7">G112:</text><text x="1358.8" y="836.7">Subdoligranulum</text>
<text x="1306.9" y="857.6">G117:</text><text x="1358.8" y="857.6">Collinsella</text>
<text x="1306.9" y="878.4">G119:</text><text x="1358.8" y="878.4">Roseburia</text>
<text x="1306.9" y="899.3">G49:</text><text x="1358.8" y="899.3">Anaerovoracaceae;Family_XIII_AD3011_group</text>
<text x="1306.9" y="920.1">G102:</text><text x="1358.8" y="920.1">Megasphaera</text>
<text x="1306.9" y="940.9">G76:</text><text x="1358.8" y="940.9">Desulfovibrio</text>
<text x="1306.9" y="961.8">G39:</text><text x="1358.8" y="961.8">Fournierella</text>
<text x="1306.9" y="982.6">G108:</text><text x="1358.8" y="982.6">Coprococcus</text>
<text x="1306.9" y="1003.5">G89:</text><text x="1358.8" y="1003.5">Ruminococcus</text>
<text x="1306.9" y="1024.3">G100:</text><text x="1358.8" y="1024.3">Asteroleplasma</text>
<text x="1306.9" y="1045.2">G38:</text><text x="1358.8" y="1045.2">Anaerovoracaceae;Family_XIII_UCG-001</text>
<text x="1306.9" y="1066.0">G66:</text><text x="1358.8" y="1066.0">Alistipes</text>
<text x="1306.9" y="1086.8">G71:</text><text x="1358.8" y="1086.8">Oscillospiraceae;NK4A214_group</text>
<text x="1306.9" y="1107.7">G114:</text><text x="1358.8" y="1107.7">Lachnospiraceae;[Ruminococcus]_torques_group</text>
<text x="1306.9" y="1128.5">G23:</text><text x="1358.8" y="1128.5">Bacilli;RF39</text>
<text x="1306.9" y="1149.4">G28:</text><text x="1358.8" y="1149.4">Akkermansia</text>
<text x="1306.9" y="1170.2">G73:</text><text x="1358.8" y="1170.2">Rikenellaceae_RC9_gut_group</text>
<text x="1306.9" y="1191.1">G25:</text><text x="1358.8" y="1191.1">Barnesiella</text>
<text x="1306.9" y="1211.9">G19:</text><text x="1358.8" y="1211.9">Allisonella</text>
<text x="1306.9" y="1232.7">G53:</text><text x="1358.8" y="1232.7">Lachnoclostridium</text>
<text x="1306.9" y="1253.6">G63:</text><text x="1358.8" y="1253.6">Lachnospiraceae;CAG-56</text>
<text x="1306.9" y="1274.4">G81:</text><text x="1358.8" y="1274.4">Christensenellaceae_R-7_group</text>
<text x="1306.9" y="1295.3">G88:</text><text x="1358.8" y="1295.3">Streptococcus</text>
<text x="1306.9" y="1316.1">G36:</text><text x="1358.8" y="1316.1">Lachnospiraceae_UCG-001</text>
<text x="1306.9" y="1336.9">G44:</text><text x="1358.8" y="1336.9">Senegalimassilia</text>
<text x="1306.9" y="1357.8">G14:</text><text x="1358.8" y="1357.8">Oscillibacter</text>
<text x="1306.9" y="1378.6">G96:</text><text x="1358.8" y="1378.6">Butyrivibrio</text>
<text x="1306.9" y="1399.5">G91:</text><text x="1358.8" y="1399.5">Lachnospira</text>
<text x="1306.9" y="1420.3">G27:</text><text x="1358.8" y="1420.3">Lachnospiraceae;GCA-900066575</text>
<text x="1306.9" y="1441.2">G67:</text><text x="1358.8" y="1441.2">Butyricicoccus</text>
<text x="1306.9" y="1462.0">G109:</text><text x="1358.8" y="1462.0">__Unknowns__</text>
<text x="1306.9" y="1482.8">G62:</text><text x="1358.8" y="1482.8">Lachnospiraceae;[Eubacterium]_xylanophilum_group</text>
</g></g>
</svg>
</body></html>
